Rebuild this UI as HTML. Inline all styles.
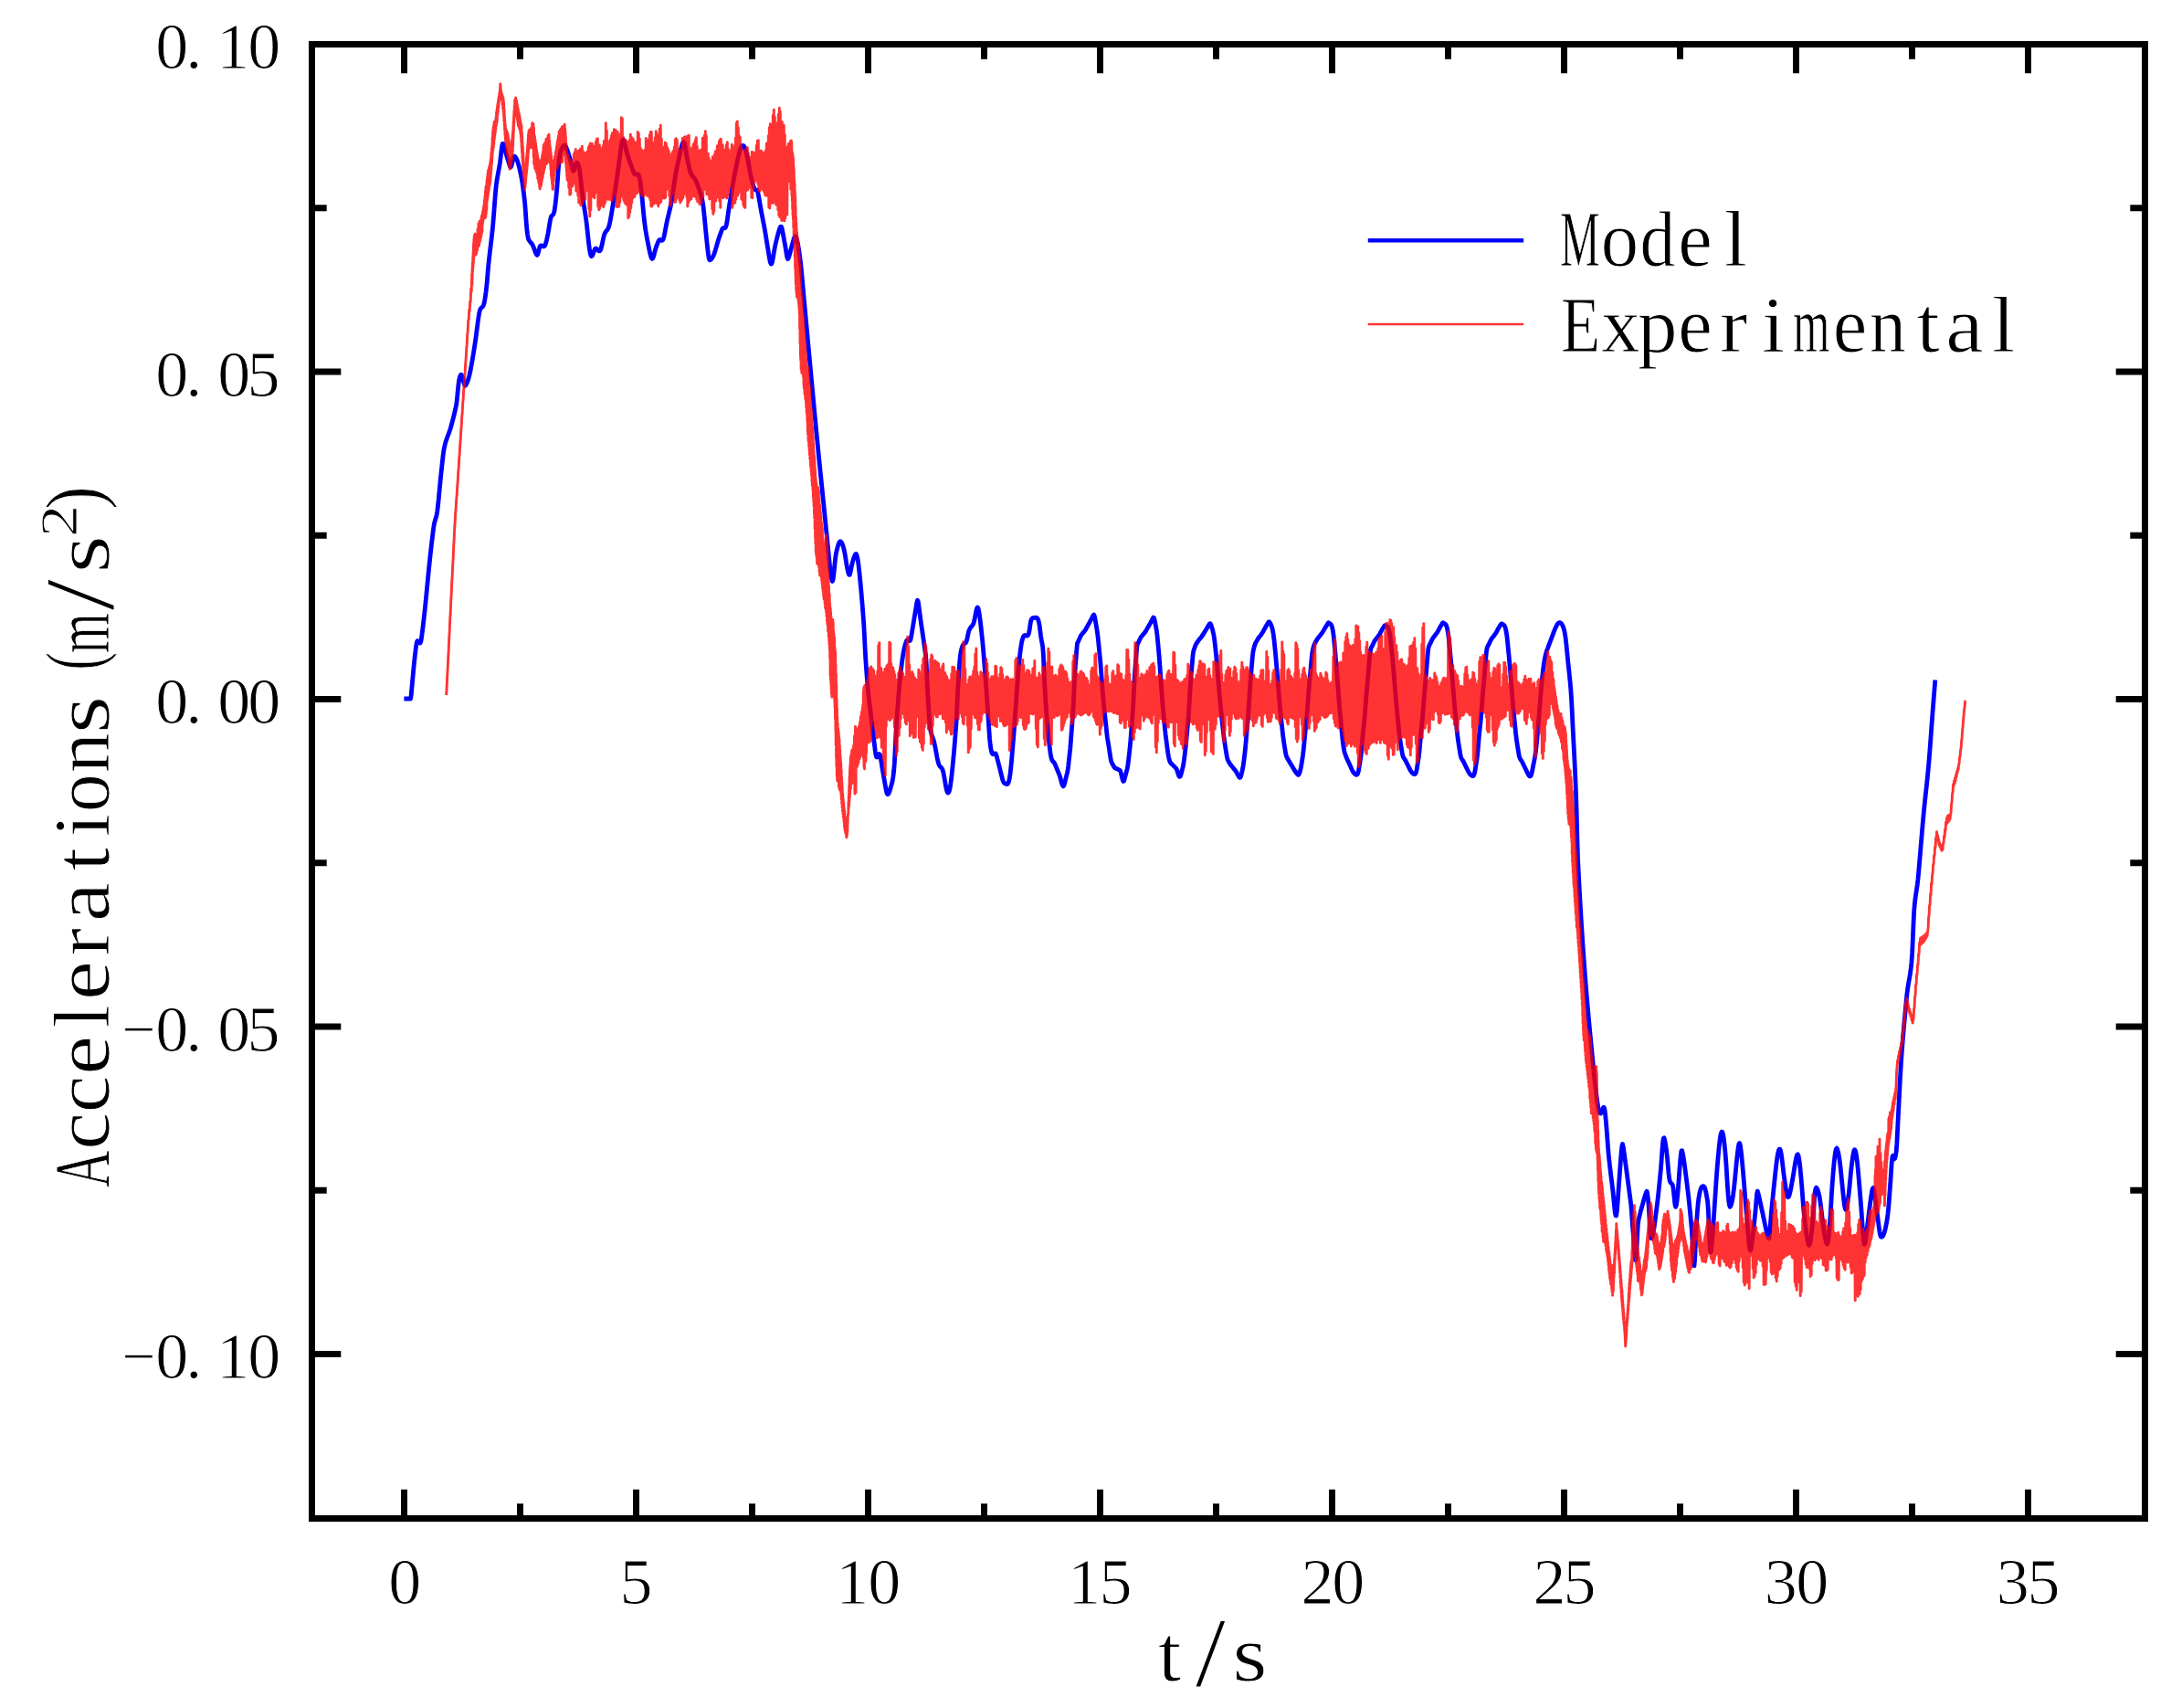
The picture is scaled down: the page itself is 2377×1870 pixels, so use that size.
<!DOCTYPE html>
<html lang="en"><head><meta charset="utf-8"><title>Accelerations: Model vs Experimental</title>
<style>html,body{margin:0;padding:0;background:#fff}svg{display:block}</style></head>
<body>
<svg width="2377" height="1870" viewBox="0 0 2377 1870" font-family="'Liberation Serif', serif" fill="#000">
<rect x="0" y="0" width="2377" height="1870" fill="#fff"/>
<style>text{stroke:#fff;stroke-width:0.9px;paint-order:fill stroke;stroke-linejoin:round}</style>
<path d="M442.4 765.0l0.7 0l0.7 0l0.7 0l0.7 0l0.7 0l0.7 0l0.7 0l0.7 -0.1l0.7 0.1l0.7 0.1l0.7 -3.1l0.7 -7.4l0.7 -7.8l0.7 -7.7l0.7 -7.5l0.7 -7.1l0.7 -6.5l0.7 -6l0.7 -5.4l0.7 -3.6l0.7 -1.3l0.7 0.1l0.7 0.9l0.7 1l0.7 0.3l0.7 -1l0.7 -3.1l0.7 -5.2l0.7 -5.5l0.7 -5.8l0.7 -6l0.7 -6.3l0.7 -6.7l0.7 -6.9l0.7 -7.1l0.7 -7.3l0.7 -7.2l0.7 -7.3l0.7 -7.1l0.7 -6.8l0.7 -6.7l0.7 -6.3l0.7 -6.1l0.7 -5.9l0.7 -5.7l0.7 -5.5l0.7 -4.5l0.7 -2.9l0.7 -2.3l0.7 -2.2l0.7 -2.8l0.7 -4.2l0.7 -6l0.7 -6.7l0.7 -7.3l0.7 -7.4l0.7 -7.4l0.7 -7l0.7 -6.4l0.7 -6.5l0.7 -6.2l0.7 -5.2l0.7 -3.7l0.7 -3l0.7 -2.6l0.7 -2.2l0.7 -2.1l0.7 -1.9l0.7 -1.9l0.7 -1.8l0.7 -1.9l0.7 -2.1l0.7 -2.3l0.7 -2.5l0.7 -2.6l0.7 -2.6l0.7 -2.7l0.7 -2.8l0.7 -2.9l0.7 -3l0.7 -3.2l0.7 -3.5l0.7 -6.1l0.7 -7.5l0.7 -7.1l0.7 -5.1l0.7 -3.3l0.7 -2l0.7 -0.9l0.7 0.4l0.7 1.7l0.7 2.5l0.7 2.8l0.7 2.5l0.7 1.7l0.7 0.4l0.7 -1l0.7 -1.3l0.7 -1.6l0.7 -2l0.7 -2.3l0.7 -2.6l0.7 -3l0.7 -3.4l0.7 -3.8l0.7 -3.9l0.7 -4l0.7 -4.2l0.7 -4.3l0.7 -4.4l0.7 -4.5l0.7 -4.8l0.7 -5.3l0.7 -5.4l0.7 -5.4l0.7 -5.2l0.7 -4.8l0.7 -3.7l0.7 -2.4l0.7 -1.3l0.7 -0.7l0.7 -0.5l0.7 -0.6l0.7 -1.2l0.7 -2.1l0.7 -3.3l0.7 -4.2l0.7 -4.9l0.7 -5.9l0.7 -7.1l0.7 -9.1l0.7 -8l0.7 -6.5l0.7 -6.1l0.7 -5.8l0.7 -5.8l0.7 -5.9l0.7 -6.3l0.7 -7l0.7 -8.5l0.7 -9.2l0.7 -9.4l0.7 -8.7l0.7 -7.2l0.7 -5.1l0.7 -4.3l0.7 -4l0.7 -3.9l0.7 -3.9l0.7 -4.3l0.7 -5.6l0.7 -6.3l0.7 -5.5l0.7 -3.3l0.7 -0.1l0.7 1.6l0.7 2.3l0.7 2.6l0.7 2.8l0.7 2.7l0.7 2.4l0.7 2.2l0.7 2.3l0.7 2.3l0.7 2.2l0.7 2l0.7 0.2l0.7 -1.5l0.7 -2.7l0.7 -3.1l0.7 -2.7l0.7 -1.7l0.7 -0.1l0.7 0.8l0.7 1l0.7 1.3l0.7 1.6l0.7 2l0.7 2.3l0.7 2.6l0.7 3l0.7 3.2l0.7 3.4l0.7 3.7l0.7 4.2l0.7 4.8l0.7 5.4l0.7 5.9l0.7 6.3l0.7 9.2l0.7 10.6l0.7 8.2l0.7 5.7l0.7 4.1l0.7 2.1l0.7 1.1l0.7 0.9l0.7 0.8l0.7 0.8l0.7 0.9l0.7 1.2l0.7 1.5l0.7 1.8l0.7 1.9l0.7 1.9l0.7 1.8l0.7 1.3l0.7 0.9l0.7 -0.8l0.7 -2.2l0.7 -2.9l0.7 -2.6l0.7 -1.5l0.7 -0.5l0.7 0l0.7 0.3l0.7 0.5l0.7 0.3l0.7 -0.1l0.7 -0.6l0.7 -1.5l0.7 -2.2l0.7 -2.7l0.7 -3.2l0.7 -3.4l0.7 -3.9l0.7 -4.3l0.7 -4.3l0.7 -3.8l0.7 -2.6l0.7 -1.2l0.7 -0.5l0.7 -0.5l0.7 -1.2l0.7 -2.5l0.7 -4.2l0.7 -5.7l0.7 -6.7l0.7 -7.3l0.7 -9.2l0.7 -10.4l0.7 -8.5l0.7 -5.8l0.7 -4.4l0.7 -3.2l0.7 -2l0.7 -1.5l0.7 -1.4l0.7 -1.1l0.7 -0.7l0.7 -0.3l0.7 0.4l0.7 1.1l0.7 1.6l0.7 1.8l0.7 2l0.7 2.1l0.7 2.2l0.7 2.2l0.7 2.5l0.7 3l0.7 3l0.7 2.9l0.7 2.4l0.7 1.1l0.7 -1.1l0.7 -2.4l0.7 -2.7l0.7 -2.3l0.7 -0.8l0.7 0.5l0.7 1.1l0.7 1.9l0.7 2.9l0.7 4.2l0.7 5.6l0.7 6.7l0.7 6.9l0.7 6l0.7 5.1l0.7 4.6l0.7 4.5l0.7 4.4l0.7 4.6l0.7 5l0.7 5.7l0.7 6.6l0.7 6.7l0.7 6.2l0.7 5.2l0.7 4.1l0.7 2.8l0.7 1.3l0.7 -0.4l0.7 -1.2l0.7 -1.9l0.7 -2l0.7 -1.7l0.7 -1.1l0.7 -0.3l0.7 0.3l0.7 0.7l0.7 0.7l0.7 0.7l0.7 0.4l0.7 -0.1l0.7 -0.7l0.7 -1.7l0.7 -2.6l0.7 -3.1l0.7 -3.4l0.7 -3.2l0.7 -2.7l0.7 -1.9l0.7 -1.3l0.7 -0.9l0.7 -0.8l0.7 -0.8l0.7 -1.2l0.7 -1.6l0.7 -2.4l0.7 -3.2l0.7 -3.6l0.7 -3.8l0.7 -4.1l0.7 -4.3l0.7 -4.5l0.7 -4.6l0.7 -4.6l0.7 -4.6l0.7 -4.7l0.7 -4.8l0.7 -4.7l0.7 -4.9l0.7 -5.2l0.7 -5.4l0.7 -5.5l0.7 -5.4l0.7 -5.2l0.7 -4.7l0.7 -3.6l0.7 -2l0.7 -0.2l0.7 1.8l0.7 2.5l0.7 2.9l0.7 3l0.7 3l0.7 2.6l0.7 2.2l0.7 2.1l0.7 2.1l0.7 2l0.7 2l0.7 2l0.7 1.9l0.7 1.9l0.7 1.9l0.7 1.8l0.7 1.7l0.7 0.8l0.7 0.2l0.7 -0.1l0.7 -0.3l0.7 -0.1l0.7 0.3l0.7 0.9l0.7 1.9l0.7 3.1l0.7 5l0.7 6.2l0.7 6.5l0.7 6.9l0.7 7.5l0.7 7.2l0.7 6.5l0.7 5.5l0.7 4.8l0.7 4.2l0.7 3.8l0.7 3.6l0.7 3.4l0.7 3.5l0.7 3.4l0.7 3.1l0.7 2.7l0.7 1.8l0.7 0.8l0.7 -0.4l0.7 -1.7l0.7 -2.4l0.7 -2.7l0.7 -2.7l0.7 -2.3l0.7 -1.9l0.7 -1.9l0.7 -1.7l0.7 -1.7l0.7 -1.2l0.7 -0.3l0.7 0.2l0.7 0.4l0.7 0.3l0.7 -0.1l0.7 -0.8l0.7 -1.8l0.7 -3l0.7 -3.4l0.7 -3.8l0.7 -3.7l0.7 -3.5l0.7 -3.2l0.7 -2.9l0.7 -2.9l0.7 -2.8l0.7 -2.9l0.7 -3.1l0.7 -3.3l0.7 -3.8l0.7 -4.6l0.7 -5l0.7 -5.2l0.7 -4.9l0.7 -4.5l0.7 -3.9l0.7 -3.7l0.7 -3.5l0.7 -3.3l0.7 -3.2l0.7 -3.2l0.7 -3.2l0.7 -3.4l0.7 -3.3l0.7 -2.9l0.7 -2.5l0.7 -1.7l0.7 -0.8l0.7 0.4l0.7 1.8l0.7 3.5l0.7 4.5l0.7 4.6l0.7 4l0.7 3.1l0.7 3.2l0.7 3l0.7 2.8l0.7 2.3l0.7 1.8l0.7 1.3l0.7 1l0.7 0.8l0.7 0.8l0.7 0.7l0.7 1l0.7 1.2l0.7 1.5l0.7 1.7l0.7 1.8l0.7 1.9l0.7 2l0.7 2.1l0.7 2.1l0.7 2l0.7 2.4l0.7 2.8l0.7 3.7l0.7 4.8l0.7 6.1l0.7 7l0.7 7.3l0.7 7.2l0.7 6.9l0.7 6.7l0.7 6.4l0.7 5.8l0.7 3.7l0.7 1.6l0.7 -0.2l0.7 -0.5l0.7 -0.8l0.7 -1l0.7 -1.2l0.7 -1.4l0.7 -1.8l0.7 -2l0.7 -2.2l0.7 -2.4l0.7 -2.4l0.7 -2.4l0.7 -2.4l0.7 -2.3l0.7 -2.1l0.7 -2.1l0.7 -1.9l0.7 -1.9l0.7 -1.9l0.7 -1.7l0.7 -0.6l0.7 0l0.7 0.1l0.7 0l0.7 -0.9l0.7 -2l0.7 -3.5l0.7 -4.7l0.7 -5.1l0.7 -5.1l0.7 -4.4l0.7 -4.3l0.7 -4.3l0.7 -4.3l0.7 -4.2l0.7 -4.1l0.7 -4l0.7 -3.9l0.7 -3.7l0.7 -3.5l0.7 -3.5l0.7 -3.3l0.7 -3.3l0.7 -3.3l0.7 -3.3l0.7 -2.9l0.7 -2.6l0.7 -2.1l0.7 -1.8l0.7 -1.3l0.7 -0.8l0.7 -0.2l0.7 0.4l0.7 1l0.7 1.5l0.7 1.9l0.7 2.4l0.7 2.8l0.7 3.1l0.7 3.6l0.7 4l0.7 4.1l0.7 4l0.7 3.6l0.7 3l0.7 2.8l0.7 2.6l0.7 2.3l0.7 2.2l0.7 2l0.7 1l0.7 0.2l0.7 0l0.7 0.5l0.7 1.4l0.7 3l0.7 3.8l0.7 4l0.7 4.1l0.7 4.1l0.7 3.8l0.7 3.6l0.7 3.6l0.7 3.7l0.7 3.6l0.7 3.8l0.7 4l0.7 4.3l0.7 4.4l0.7 4.3l0.7 4.2l0.7 4.4l0.7 4.4l0.7 3.9l0.7 2.9l0.7 1.5l0.7 -0.4l0.7 -2.3l0.7 -3.5l0.7 -4.2l0.7 -4.3l0.7 -4l0.7 -3.2l0.7 -2.9l0.7 -2.8l0.7 -2.7l0.7 -2.6l0.7 -2.6l0.7 -2.4l0.7 -2l0.7 -1.1l0.7 0.1l0.7 1.9l0.7 3.1l0.7 3.7l0.7 4l0.7 4l0.7 3.6l0.7 4.2l0.7 4.6l0.7 4l0.7 2.3l0.7 -0.5l0.7 -2.1l0.7 -2.5l0.7 -2.7l0.7 -2.6l0.7 -2.5l0.7 -2.6l0.7 -2.5l0.7 -2.6l0.7 -2.4l0.7 -1.6l0.7 -0.3l0.7 0.8l0.7 1.9l0.7 2.6l0.7 3.4l0.7 4l0.7 4.4l0.7 5l0.7 5.6l0.7 6.3l0.7 7.3l0.7 7.8l0.7 7.8l0.7 7.9l0.7 7.6l0.7 7.5l0.7 7.5l0.7 7.6l0.7 7.5l0.7 7.6l0.7 7.6l0.7 7.6l0.7 7.5l0.7 7.6l0.7 7.5l0.7 7.6l0.7 7.5l0.7 7.5l0.7 7.4l0.7 7.5l0.7 7.4l0.7 7.3l0.7 7.4l0.7 7.2l0.7 7.3l0.7 7.1l0.7 7.2l0.7 7l0.7 7l0.7 6.9l0.7 6.9l0.7 6.9l0.7 6.8l0.7 6.9l0.7 6.9l0.7 6.9l0.7 6.9l0.7 7.1l0.7 7l0.7 7l0.7 7.1l0.7 7.1l0.7 7l0.7 7l0.7 6.8l0.7 6.1l0.7 5.1l0.7 3.5l0.7 1.5l0.7 -2l0.7 -5.1l0.7 -6.9l0.7 -7.2l0.7 -6.2l0.7 -4l0.7 -2.8l0.7 -2.8l0.7 -2.5l0.7 -2l0.7 -1.5l0.7 -0.7l0.7 0.2l0.7 0.7l0.7 1.2l0.7 1.7l0.7 2.2l0.7 2.6l0.7 3.2l0.7 3.9l0.7 4.5l0.7 4.5l0.7 3.9l0.7 3.5l0.7 2.9l0.7 1.7l0.7 -0.1l0.7 -2.2l0.7 -3.5l0.7 -3.8l0.7 -3.2l0.7 -2.5l0.7 -2.3l0.7 -2l0.7 -1.7l0.7 -1.3l0.7 -0.3l0.7 1.3l0.7 2.5l0.7 4l0.7 5.1l0.7 6.1l0.7 6.9l0.7 7.3l0.7 7.8l0.7 8.1l0.7 8.5l0.7 9l0.7 9.6l0.7 12.4l0.7 14.6l0.7 12.5l0.7 9.9l0.7 9.4l0.7 8.6l0.7 7.7l0.7 6.5l0.7 5.9l0.7 5.9l0.7 5.8l0.7 5.8l0.7 5.9l0.7 5.8l0.7 5.8l0.7 5.8l0.7 5.8l0.7 5.7l0.7 4.5l0.7 1.9l0.7 0.1l0.7 -1.1l0.7 -1.4l0.7 -0.9l0.7 0.4l0.7 2.4l0.7 4l0.7 4.3l0.7 4.3l0.7 4.2l0.7 4.1l0.7 4.1l0.7 3.9l0.7 3.9l0.7 3.8l0.7 3l0.7 1.5l0.7 0.1l0.7 -0.9l0.7 -1.6l0.7 -2.2l0.7 -2.3l0.7 -2.4l0.7 -2.3l0.7 -3.1l0.7 -4.4l0.7 -6l0.7 -8.4l0.7 -12.9l0.7 -14.9l0.7 -11.5l0.7 -11.1l0.7 -10.5l0.7 -9.5l0.7 -8.6l0.7 -8l0.7 -7.3l0.7 -6.6l0.7 -5.9l0.7 -5.4l0.7 -4.9l0.7 -4.3l0.7 -3.6l0.7 -3l0.7 -2.5l0.7 -2.2l0.7 -1.8l0.7 -0.9l0.7 0.1l0.7 0.5l0.7 0.5l0.7 0l0.7 -1.1l0.7 -2.7l0.7 -4.1l0.7 -4.2l0.7 -4.3l0.7 -4.2l0.7 -4.2l0.7 -4.2l0.7 -4.3l0.7 -4.2l0.7 -4.2l0.7 -2.9l0.7 1.3l0.7 4.3l0.7 5.7l0.7 5.8l0.7 4.8l0.7 4.8l0.7 4.7l0.7 4.8l0.7 4.8l0.7 4.8l0.7 4.9l0.7 5l0.7 5.2l0.7 10l0.7 15.5l0.7 15.5l0.7 11.5l0.7 10.7l0.7 9.4l0.7 6.9l0.7 3.8l0.7 2.6l0.7 2.1l0.7 1.8l0.7 2l0.7 2.4l0.7 3.2l0.7 3.6l0.7 3.8l0.7 3.8l0.7 3.6l0.7 3.2l0.7 2.6l0.7 1.7l0.7 1.1l0.7 0.8l0.7 0.6l0.7 0.8l0.7 1.3l0.7 2l0.7 3.1l0.7 3.8l0.7 4.1l0.7 4.2l0.7 3.7l0.7 2.8l0.7 1.7l0.7 0.4l0.7 -0.7l0.7 -2l0.7 -3.2l0.7 -4.4l0.7 -5.4l0.7 -6.3l0.7 -6.9l0.7 -7.3l0.7 -7.7l0.7 -8.2l0.7 -8.6l0.7 -9.3l0.7 -10.6l0.7 -14.5l0.7 -15.2l0.7 -12.5l0.7 -10.9l0.7 -9.4l0.7 -7.1l0.7 -4.4l0.7 -3l0.7 -2.3l0.7 -1.7l0.7 -1l0.7 -0.6l0.7 -0.3l0.7 -0.5l0.7 -0.9l0.7 -1.8l0.7 -3l0.7 -3.4l0.7 -3.2l0.7 -2.1l0.7 -1.4l0.7 -1.1l0.7 -0.9l0.7 -0.8l0.7 -0.9l0.7 -1.1l0.7 -1.6l0.7 -2.7l0.7 -3.5l0.7 -3.8l0.7 -3.4l0.7 -2.5l0.7 -1l0.7 1.1l0.7 2.9l0.7 4.3l0.7 5.2l0.7 5.9l0.7 6.1l0.7 6.4l0.7 7l0.7 7.9l0.7 8.6l0.7 9l0.7 9.2l0.7 9.4l0.7 9.5l0.7 9.6l0.7 10.6l0.7 11.1l0.7 10.8l0.7 9.4l0.7 6.9l0.7 4.6l0.7 2.9l0.7 1.7l0.7 0.7l0.7 -0.1l0.7 -0.5l0.7 -0.4l0.7 0.1l0.7 1.1l0.7 2.3l0.7 2.7l0.7 2.7l0.7 2.8l0.7 2.7l0.7 2.8l0.7 2.8l0.7 2.8l0.7 2.8l0.7 2.8l0.7 2.1l0.7 1.4l0.7 0.8l0.7 0.4l0.7 0.2l0.7 0.4l0.7 0.1l0.7 -0.3l0.7 -1l0.7 -2l0.7 -3l0.7 -4.6l0.7 -6.1l0.7 -7.2l0.7 -8.1l0.7 -8.5l0.7 -8.6l0.7 -9l0.7 -9.1l0.7 -9.7l0.7 -10l0.7 -10.1l0.7 -9.9l0.7 -9.5l0.7 -8.7l0.7 -7.8l0.7 -6.8l0.7 -6l0.7 -5.2l0.7 -4l0.7 -3l0.7 -2.2l0.7 -1.6l0.7 -0.9l0.7 -0.2l0.7 0.1l0.7 0.3l0.7 0.2l0.7 -0.1l0.7 -0.6l0.7 -1.4l0.7 -3.2l0.7 -4.9l0.7 -4.7l0.7 -2.8l0.7 -1l0.7 -0.7l0.7 -0.3l0.7 -0.1l0.7 0l0.7 0l0.7 -0.1l0.7 0l0.7 0.3l0.7 0.8l0.7 1.6l0.7 2.4l0.7 4.1l0.7 5.6l0.7 5.6l0.7 4.3l0.7 3.4l0.7 4.1l0.7 9.2l0.7 17.2l0.7 15.5l0.7 11.2l0.7 10.7l0.7 10.1l0.7 9.1l0.7 8l0.7 7.2l0.7 6.8l0.7 6.2l0.7 5.2l0.7 4l0.7 2.7l0.7 1.3l0.7 0.9l0.7 0.7l0.7 0.8l0.7 1.3l0.7 1.6l0.7 1.7l0.7 1.7l0.7 1.8l0.7 1.7l0.7 1.7l0.7 1.7l0.7 1.9l0.7 2.6l0.7 2.7l0.7 2.5l0.7 1.9l0.7 0.9l0.7 -0.5l0.7 -2.3l0.7 -2.8l0.7 -2.8l0.7 -2.8l0.7 -2.7l0.7 -2.8l0.7 -5.4l0.7 -6.7l0.7 -6.4l0.7 -6.2l0.7 -9.3l0.7 -9.2l0.7 -8.9l0.7 -10.2l0.7 -12.6l0.7 -14.1l0.7 -14.1l0.7 -12.1l0.7 -8.4l0.7 -9l0.7 -7.4l0.7 -1.1l0.7 -1.6l0.7 -1.6l0.7 -1.5l0.7 -1.6l0.7 -1.3l0.7 -0.9l0.7 -0.9l0.7 -0.8l0.7 -0.8l0.7 -0.9l0.7 -0.9l0.7 -1l0.7 -1.3l0.7 -1.3l0.7 -1.2l0.7 -1.3l0.7 -1.3l0.7 -1.2l0.7 -1.3l0.7 -1.3l0.7 -1.3l0.7 -1.4l0.7 -1.4l0.7 -1.4l0.7 -0.6l0.7 1.6l0.7 3.5l0.7 4.3l0.7 4l0.7 4.2l0.7 5.2l0.7 6.5l0.7 7.1l0.7 7l0.7 7l0.7 8.8l0.7 9.2l0.7 9.2l0.7 9.2l0.7 8.5l0.7 7.4l0.7 6.5l0.7 6.2l0.7 6.4l0.7 6.9l0.7 5.9l0.7 4.3l0.7 4l0.7 4.6l0.7 4.7l0.7 4.5l0.7 3.7l0.7 1.7l0.7 1.3l0.7 1.3l0.7 1.3l0.7 1l0.7 0.8l0.7 0.4l0.7 0.2l0.7 0.4l0.7 0.3l0.7 0.3l0.7 0.4l0.7 0.3l0.7 0.4l0.7 1.8l0.7 2.8l0.7 3.1l0.7 2.7l0.7 1.5l0.7 -0.3l0.7 -2.4l0.7 -2.7l0.7 -2.7l0.7 -2.6l0.7 -2.7l0.7 -3.2l0.7 -5.7l0.7 -6.4l0.7 -5.9l0.7 -6.7l0.7 -9.3l0.7 -8.5l0.7 -8.8l0.7 -10.4l0.7 -12.6l0.7 -13.7l0.7 -13.6l0.7 -10.1l0.7 -7.8l0.7 -9.1l0.7 -4.9l0.7 -1.1l0.7 -1.5l0.7 -1.5l0.7 -1.5l0.7 -1.4l0.7 -1.1l0.7 -0.9l0.7 -0.8l0.7 -0.8l0.7 -0.8l0.7 -0.8l0.7 -0.9l0.7 -1.1l0.7 -1.2l0.7 -1.3l0.7 -1.2l0.7 -1.2l0.7 -1.2l0.7 -1.2l0.7 -1.2l0.7 -1.3l0.7 -1.3l0.7 -1.3l0.7 -1.4l0.7 -1.3l0.7 0.4l0.7 2.4l0.7 3.7l0.7 3.8l0.7 4l0.7 5.3l0.7 6.9l0.7 7.8l0.7 7.7l0.7 9.4l0.7 9.7l0.7 10.2l0.7 10.1l0.7 9.1l0.7 8.1l0.7 7.5l0.7 7.6l0.7 7.7l0.7 6.7l0.7 5.3l0.7 5.3l0.7 5.5l0.7 5l0.7 4l0.7 2.9l0.7 1.9l0.7 1.2l0.7 0.8l0.7 0.7l0.7 0.7l0.7 0.6l0.7 0.7l0.7 0.7l0.7 0.7l0.7 0.7l0.7 0.8l0.7 1.6l0.7 2.2l0.7 2.3l0.7 1.9l0.7 0.8l0.7 -0.4l0.7 -1.6l0.7 -2.4l0.7 -2.8l0.7 -2.8l0.7 -3.1l0.7 -4.8l0.7 -5.6l0.7 -5.7l0.7 -6.2l0.7 -8.2l0.7 -7.7l0.7 -7.4l0.7 -8.4l0.7 -10.3l0.7 -11.6l0.7 -11.6l0.7 -10.4l0.7 -7.7l0.7 -7.7l0.7 -7.9l0.7 -3.8l0.7 -2l0.7 -2.1l0.7 -1.8l0.7 -1.5l0.7 -1l0.7 -1.1l0.7 -1l0.7 -0.9l0.7 -0.9l0.7 -0.9l0.7 -0.8l0.7 -0.8l0.7 -1l0.7 -1l0.7 -1.1l0.7 -1.1l0.7 -1.2l0.7 -1.1l0.7 -1.2l0.7 -1.1l0.7 -1.2l0.7 -1.2l0.7 -1.2l0.7 -1.1l0.7 -1.1l0.7 -0.2l0.7 1.2l0.7 1.9l0.7 2.4l0.7 2.5l0.7 3l0.7 3.9l0.7 5.3l0.7 6.3l0.7 6.5l0.7 7.3l0.7 7.9l0.7 8.2l0.7 8.6l0.7 8.6l0.7 8l0.7 7.5l0.7 7.1l0.7 6.9l0.7 6.9l0.7 6.4l0.7 5.9l0.7 5.3l0.7 4.9l0.7 4.5l0.7 4.3l0.7 4l0.7 3.2l0.7 1.5l0.7 1.4l0.7 1.3l0.7 1.1l0.7 0.9l0.7 0.8l0.7 0.9l0.7 0.9l0.7 0.8l0.7 0.9l0.7 0.9l0.7 0.8l0.7 0.9l0.7 1.2l0.7 1.3l0.7 1.3l0.7 1.3l0.7 1.2l0.7 0.8l0.7 -0.2l0.7 -1.6l0.7 -2.6l0.7 -3.1l0.7 -3.3l0.7 -4.5l0.7 -5.2l0.7 -5.8l0.7 -6.7l0.7 -8.2l0.7 -8.2l0.7 -7.4l0.7 -7.8l0.7 -9.7l0.7 -11.1l0.7 -11.4l0.7 -10.3l0.7 -8.2l0.7 -8.1l0.7 -8.5l0.7 -6.1l0.7 -3l0.7 -2.7l0.7 -2.2l0.7 -1.7l0.7 -1.2l0.7 -1.2l0.7 -1.2l0.7 -1.2l0.7 -1l0.7 -0.9l0.7 -0.8l0.7 -0.9l0.7 -1l0.7 -1.1l0.7 -1.1l0.7 -1.2l0.7 -1.3l0.7 -1.2l0.7 -1.3l0.7 -1.2l0.7 -1.2l0.7 -1.2l0.7 -1.2l0.7 -1.1l0.7 -0.5l0.7 0.6l0.7 1.2l0.7 1.4l0.7 1.7l0.7 2.3l0.7 3.2l0.7 4.5l0.7 5.8l0.7 6.7l0.7 7.4l0.7 7.7l0.7 8l0.7 8.6l0.7 8.8l0.7 8.4l0.7 8l0.7 7.9l0.7 7.5l0.7 7l0.7 6.8l0.7 6.5l0.7 6l0.7 5.1l0.7 4.6l0.7 4.2l0.7 4.2l0.7 2.9l0.7 1.5l0.7 1.4l0.7 1.2l0.7 1.1l0.7 1.2l0.7 1.2l0.7 1.1l0.7 1.2l0.7 1.1l0.7 1.2l0.7 1.2l0.7 1.1l0.7 1.2l0.7 1l0.7 1l0.7 1l0.7 0.9l0.7 0.8l0.7 0.2l0.7 -1l0.7 -1.8l0.7 -2.7l0.7 -3.2l0.7 -4.1l0.7 -4.4l0.7 -4.8l0.7 -6l0.7 -7.4l0.7 -7.8l0.7 -7l0.7 -6.4l0.7 -7l0.7 -8.6l0.7 -9.7l0.7 -9.6l0.7 -8.7l0.7 -7.6l0.7 -7.5l0.7 -8l0.7 -7.5l0.7 -4.7l0.7 -3.3l0.7 -2.5l0.7 -1.7l0.7 -1.4l0.7 -1.3l0.7 -1.3l0.7 -1.2l0.7 -1.1l0.7 -0.9l0.7 -0.9l0.7 -0.8l0.7 -0.9l0.7 -0.9l0.7 -0.9l0.7 -0.9l0.7 -1.1l0.7 -1.2l0.7 -1.2l0.7 -1.3l0.7 -1.1l0.7 -1.1l0.7 -1.1l0.7 -1.2l0.7 -1.1l0.7 -0.8l0.7 0.5l0.7 0.5l0.7 0.5l0.7 0.5l0.7 1.5l0.7 2.4l0.7 3.6l0.7 5.2l0.7 6.9l0.7 7.9l0.7 7.8l0.7 7.9l0.7 9l0.7 9.4l0.7 9l0.7 9.2l0.7 8.8l0.7 7.8l0.7 7.4l0.7 7.5l0.7 7.4l0.7 7.1l0.7 6l0.7 4.6l0.7 3.3l0.7 2.1l0.7 1.9l0.7 1.9l0.7 1.7l0.7 1.5l0.7 1.5l0.7 1.6l0.7 1.5l0.7 1.5l0.7 1.5l0.7 1.6l0.7 1.5l0.7 1.4l0.7 1.1l0.7 0.8l0.7 0.7l0.7 0.6l0.7 0.4l0.7 0.2l0.7 -0.5l0.7 -1.4l0.7 -2.7l0.7 -4.2l0.7 -4.5l0.7 -4.3l0.7 -5.3l0.7 -7.7l0.7 -8.1l0.7 -7.7l0.7 -6.4l0.7 -6.4l0.7 -8l0.7 -9.3l0.7 -9.2l0.7 -8.1l0.7 -7.8l0.7 -8.1l0.7 -8.5l0.7 -8.6l0.7 -7.3l0.7 -3.8l0.7 -1.8l0.7 -1.1l0.7 -1.4l0.7 -1.5l0.7 -1.5l0.7 -1.3l0.7 -1.1l0.7 -0.9l0.7 -0.9l0.7 -0.9l0.7 -0.9l0.7 -0.9l0.7 -1l0.7 -1l0.7 -1.3l0.7 -1.4l0.7 -1.3l0.7 -1.2l0.7 -1.2l0.7 -1.1l0.7 -1.2l0.7 -0.9l0.7 0l0.7 0.5l0.7 0.5l0.7 0.4l0.7 0.8l0.7 1.6l0.7 2.4l0.7 3.7l0.7 5.1l0.7 6.6l0.7 7.2l0.7 7.3l0.7 7.3l0.7 8.1l0.7 8.8l0.7 8.4l0.7 8.5l0.7 8.4l0.7 7.6l0.7 6.9l0.7 6.9l0.7 7.2l0.7 6.4l0.7 5.2l0.7 4.5l0.7 4.2l0.7 4.3l0.7 3.6l0.7 1.8l0.7 1.2l0.7 0.9l0.7 1.1l0.7 1.4l0.7 1.4l0.7 1.4l0.7 1.4l0.7 1.4l0.7 1.4l0.7 1.5l0.7 1.3l0.7 1.2l0.7 0.9l0.7 0.8l0.7 0.6l0.7 0.5l0.7 0.4l0.7 0l0.7 -0.6l0.7 -1.6l0.7 -2.9l0.7 -4.4l0.7 -4.6l0.7 -4.4l0.7 -5.7l0.7 -8.2l0.7 -8.1l0.7 -7.7l0.7 -6.3l0.7 -6.7l0.7 -8.5l0.7 -9.6l0.7 -9.2l0.7 -8l0.7 -8l0.7 -8.3l0.7 -8.7l0.7 -8.7l0.7 -6.7l0.7 -3.3l0.7 -1.5l0.7 -1.2l0.7 -1.5l0.7 -1.5l0.7 -1.5l0.7 -1.2l0.7 -1.1l0.7 -0.9l0.7 -0.9l0.7 -1l0.7 -0.9l0.7 -0.9l0.7 -1l0.7 -1.1l0.7 -1.3l0.7 -1.4l0.7 -1.4l0.7 -1.2l0.7 -1.2l0.7 -1.1l0.7 -1.2l0.7 -0.7l0.7 0.3l0.7 0.4l0.7 0.5l0.7 0.5l0.7 1l0.7 1.8l0.7 2.8l0.7 4.1l0.7 5.5l0.7 7.1l0.7 7.4l0.7 7.4l0.7 7.6l0.7 8.5l0.7 8.9l0.7 8.6l0.7 8.7l0.7 8.5l0.7 7.6l0.7 7l0.7 7.1l0.7 7.3l0.7 6.5l0.7 5.1l0.7 4.5l0.7 4.3l0.7 4.4l0.7 3.5l0.7 1.7l0.7 1.2l0.7 0.9l0.7 1.2l0.7 1.4l0.7 1.4l0.7 1.5l0.7 1.4l0.7 1.5l0.7 1.4l0.7 1.5l0.7 1.4l0.7 1.1l0.7 1l0.7 0.8l0.7 0.6l0.7 0.4l0.7 0.5l0.7 0.1l0.7 -0.6l0.7 -1.6l0.7 -2.8l0.7 -4.4l0.7 -4.5l0.7 -4.4l0.7 -5.4l0.7 -7.9l0.7 -8.2l0.7 -7.8l0.7 -6.4l0.7 -6.4l0.7 -8.2l0.7 -9.4l0.7 -9.3l0.7 -8.1l0.7 -8l0.7 -8.1l0.7 -8.6l0.7 -8.6l0.7 -7.6l0.7 -4.1l0.7 -1.8l0.7 -1.1l0.7 -1.5l0.7 -1.5l0.7 -1.5l0.7 -1.3l0.7 -1.1l0.7 -1l0.7 -0.9l0.7 -0.9l0.7 -0.9l0.7 -1l0.7 -0.9l0.7 -1l0.7 -1.2l0.7 -1.4l0.7 -1.4l0.7 -1.3l0.7 -1.1l0.7 -1.2l0.7 -1.1l0.7 -1.1l0.7 -0.3l0.7 0.5l0.7 0.4l0.7 0.5l0.7 0.6l0.7 1.3l0.7 2.3l0.7 3.2l0.7 4.7l0.7 6.2l0.7 7.3l0.7 7.3l0.7 7.4l0.7 7.9l0.7 8.8l0.7 8.7l0.7 8.6l0.7 8.6l0.7 8.1l0.7 7.2l0.7 7l0.7 7.2l0.7 7.1l0.7 5.7l0.7 4.8l0.7 4.3l0.7 4.3l0.7 4.5l0.7 2.3l0.7 1.5l0.7 1l0.7 0.9l0.7 1.4l0.7 1.4l0.7 1.4l0.7 1.5l0.7 1.4l0.7 1.4l0.7 1.5l0.7 1.4l0.7 1.5l0.7 1.4l0.7 1.3l0.7 0.9l0.7 0.5l0.7 -0.2l0.7 -1.1l0.7 -2.6l0.7 -3.4l0.7 -3.7l0.7 -3.4l0.7 -3.5l0.7 -3.9l0.7 -4.7l0.7 -6l0.7 -7.1l0.7 -7.7l0.7 -8.1l0.7 -8.5l0.7 -8.8l0.7 -8.8l0.7 -8.5l0.7 -8l0.7 -7.5l0.7 -6.9l0.7 -6l0.7 -5.1l0.7 -4.4l0.7 -3.6l0.7 -2.9l0.7 -2.3l0.7 -1.9l0.7 -1.9l0.7 -1.9l0.7 -1.9l0.7 -1.9l0.7 -1.8l0.7 -1.9l0.7 -1.8l0.7 -1.9l0.7 -1.8l0.7 -1.9l0.7 -1.8l0.7 -1.7l0.7 -1.6l0.7 -1.5l0.7 -1.4l0.7 -1.3l0.7 -0.9l0.7 -0.5l0.7 -0.4l0.7 0l0.7 0.4l0.7 0.6l0.7 0.8l0.7 1.2l0.7 1.6l0.7 2.1l0.7 2.7l0.7 3.7l0.7 4.8l0.7 6.3l0.7 7.1l0.7 7.1l0.7 6.9l0.7 6.7l0.7 6.7l0.7 7l0.7 8.2l0.7 10.4l0.7 13.3l0.7 14.9l0.7 13.6l0.7 13.4l0.7 13.9l0.7 14.8l0.7 17.5l0.7 21.9l0.7 29.7l0.7 21.7l0.7 14l0.7 13.4l0.7 12.9l0.7 12.2l0.7 11.8l0.7 11.3l0.7 10.8l0.7 10.3l0.7 9.9l0.7 9.6l0.7 9.2l0.7 8.9l0.7 8.6l0.7 8.3l0.7 8.1l0.7 7.9l0.7 7.7l0.7 7.6l0.7 7.4l0.7 7.4l0.7 7.3l0.7 7.4l0.7 7.2l0.7 7.1l0.7 6.9l0.7 6.6l0.7 6.3l0.7 6.1l0.7 5.9l0.7 5.5l0.7 4.9l0.7 4.3l0.7 3.4l0.7 1.7l0.7 0.4l0.7 0.1l0.7 -1.2l0.7 -2l0.7 -2.1l0.7 -1.4l0.7 0l0.7 2.5l0.7 5.6l0.7 7.5l0.7 8.2l0.7 9.3l0.7 9.5l0.7 8.5l0.7 6.9l0.7 6.2l0.7 5.9l0.7 5.7l0.7 5.5l0.7 5.6l0.7 6l0.7 7.3l0.7 7.6l0.7 6.5l0.7 4.1l0.7 0.3l0.7 -4.4l0.7 -7.9l0.7 -9.8l0.7 -10.2l0.7 -9.4l0.7 -9.5l0.7 -9.4l0.7 -8.8l0.7 -6.7l0.7 -2.4l0.7 3.2l0.7 4.7l0.7 5l0.7 5.1l0.7 5.3l0.7 5.2l0.7 5.3l0.7 5.3l0.7 5.2l0.7 5.2l0.7 5.2l0.7 5.3l0.7 5.7l0.7 8l0.7 9.6l0.7 9.8l0.7 9l0.7 8.7l0.7 8.4l0.7 7.8l0.7 -0.3l0.7 -11.1l0.7 -15.2l0.7 -12.6l0.7 -4.8l0.7 -2.9l0.7 -2.9l0.7 -2.7l0.7 -2.6l0.7 -2.5l0.7 -2.6l0.7 -2.5l0.7 -2.6l0.7 -2.5l0.7 -2.3l0.7 -2.1l0.7 -1.9l0.7 -1.2l0.7 3.2l0.7 6.5l0.7 7.7l0.7 12l0.7 15.7l0.7 6.1l0.7 0.5l0.7 -1l0.7 -2.2l0.7 -3.3l0.7 -4.1l0.7 -4.9l0.7 -5.2l0.7 -5.4l0.7 -5.3l0.7 -5.6l0.7 -5.8l0.7 -6.3l0.7 -6.8l0.7 -7l0.7 -7.2l0.7 -7.6l0.7 -9.5l0.7 -10.1l0.7 -8.2l0.7 -4.3l0.7 -0.3l0.7 2.7l0.7 3.7l0.7 4.7l0.7 5.4l0.7 6.1l0.7 7.9l0.7 8.2l0.7 5.7l0.7 3.1l0.7 1.5l0.7 0.6l0.7 0.5l0.7 1.2l0.7 2.7l0.7 5.8l0.7 7.2l0.7 6.1l0.7 2.5l0.7 -1.8l0.7 -4.6l0.7 -6.8l0.7 -7.8l0.7 -9.3l0.7 -10l0.7 -8.7l0.7 -7.5l0.7 -5l0.7 -0.2l0.7 2.9l0.7 3.8l0.7 4.5l0.7 5l0.7 5.4l0.7 5.4l0.7 5.5l0.7 5.6l0.7 5.7l0.7 6l0.7 6.4l0.7 6.9l0.7 7.3l0.7 7.3l0.7 7.4l0.7 11.4l0.7 14.1l0.7 11.6l0.7 4l0.7 -7.4l0.7 -14.9l0.7 -16.3l0.7 -11.9l0.7 -9l0.7 -8.3l0.7 -6l0.7 -4.2l0.7 -3.3l0.7 -2.4l0.7 -1.7l0.7 -1.1l0.7 -0.6l0.7 -0.1l0.7 0.1l0.7 0.8l0.7 1.8l0.7 2.7l0.7 3.4l0.7 3.9l0.7 4.2l0.7 9.2l0.7 15.4l0.7 16.3l0.7 12l0.7 2.5l0.7 -5.3l0.7 -7.2l0.7 -8.8l0.7 -9.8l0.7 -10.2l0.7 -10.6l0.7 -10.8l0.7 -10.7l0.7 -10.1l0.7 -9.2l0.7 -8.3l0.7 -7.6l0.7 -7.2l0.7 -6.3l0.7 -4.8l0.7 -3.3l0.7 -1.6l0.7 0.1l0.7 2.1l0.7 4l0.7 5.5l0.7 6.7l0.7 7.7l0.7 9.4l0.7 11.3l0.7 11.6l0.7 9.8l0.7 7.2l0.7 4.9l0.7 1.8l0.7 -0.8l0.7 -1.8l0.7 -2.7l0.7 -3.7l0.7 -4.5l0.7 -5.4l0.7 -6.3l0.7 -7.1l0.7 -7.5l0.7 -7.4l0.7 -6.7l0.7 -6.1l0.7 -5.4l0.7 -3.6l0.7 -0.8l0.7 2.4l0.7 4.5l0.7 6.1l0.7 7.2l0.7 7.7l0.7 8l0.7 8.5l0.7 8.8l0.7 8.6l0.7 8.3l0.7 8.2l0.7 9l0.7 8.9l0.7 8.3l0.7 6.7l0.7 4.7l0.7 1.7l0.7 -1.8l0.7 -5.1l0.7 -5.7l0.7 -6.1l0.7 -6.2l0.7 -6.4l0.7 -6.3l0.7 -7.2l0.7 -9l0.7 -7.9l0.7 -3.3l0.7 2.1l0.7 2.8l0.7 3.1l0.7 3.3l0.7 3.2l0.7 3.2l0.7 3.1l0.7 3.2l0.7 3.4l0.7 3.3l0.7 3.4l0.7 3.3l0.7 3.2l0.7 3.1l0.7 2.8l0.7 2.6l0.7 2.2l0.7 0.4l0.7 -4.8l0.7 -8.1l0.7 -9.4l0.7 -8.7l0.7 -7l0.7 -6.8l0.7 -6.9l0.7 -6.9l0.7 -6.8l0.7 -6.7l0.7 -6.3l0.7 -5.7l0.7 -5l0.7 -4l0.7 -2.9l0.7 -1.6l0.7 -0.1l0.7 1.5l0.7 3.3l0.7 4.6l0.7 5.6l0.7 5.9l0.7 6l0.7 5.4l0.7 4.7l0.7 4.8l0.7 4.5l0.7 3.7l0.7 2.1l0.7 0.5l0.7 -0.8l0.7 -1.9l0.7 -2.7l0.7 -3.3l0.7 -3.7l0.7 -3.8l0.7 -3.7l0.7 -4.2l0.7 -4.4l0.7 -4.5l0.7 -4.2l0.7 -3.8l0.7 -3.1l0.7 -2.2l0.7 -0.6l0.7 1.4l0.7 3.5l0.7 5.3l0.7 6.5l0.7 7.5l0.7 7.9l0.7 8.9l0.7 9.4l0.7 8.8l0.7 7.6l0.7 6.5l0.7 5.9l0.7 5.2l0.7 4.8l0.7 4.4l0.7 3.5l0.7 2.1l0.7 0.4l0.7 -1.7l0.7 -3.5l0.7 -5.1l0.7 -6.3l0.7 -7l0.7 -7.5l0.7 -10l0.7 -10.3l0.7 -7l0.7 -3.6l0.7 -1.1l0.7 0.9l0.7 1.4l0.7 2l0.7 2.5l0.7 3.4l0.7 4.4l0.7 5.2l0.7 5.9l0.7 6l0.7 5.8l0.7 5.2l0.7 4.8l0.7 4.3l0.7 3.7l0.7 3l0.7 2.2l0.7 1.2l0.7 -1.5l0.7 -4.3l0.7 -6.6l0.7 -8.4l0.7 -9.8l0.7 -11.9l0.7 -12.5l0.7 -10.6l0.7 -9.2l0.7 -8.4l0.7 -7.4l0.7 -6.1l0.7 -4.6l0.7 -2.9l0.7 -0.9l0.7 1.2l0.7 2.5l0.7 3.3l0.7 4.1l0.7 5.1l0.7 6l0.7 6.9l0.7 7.2l0.7 7.2l0.7 6.8l0.7 6.4l0.7 5.4l0.7 3.8l0.7 1.4l0.7 -0.8l0.7 -2.8l0.7 -4.2l0.7 -5.2l0.7 -5.7l0.7 -6.8l0.7 -7.5l0.7 -7.4l0.7 -6.5l0.7 -5.7l0.7 -5.2l0.7 -4.1l0.7 -2.8l0.7 -1l0.7 0.9l0.7 2.7l0.7 4.2l0.7 5.6l0.7 6.7l0.7 7.8l0.7 8.2l0.7 8.4l0.7 8.6l0.7 8.7l0.7 9.7l0.7 10.5l0.7 9.9l0.7 7.8l0.7 3.8l0.7 -0.4l0.7 -3.4l0.7 -5.2l0.7 -6l0.7 -5.6l0.7 -5.4l0.7 -5.9l0.7 -6l0.7 -5.7l0.7 -5.1l0.7 -4.7l0.7 -4.4l0.7 -3.1l0.7 -0.8l0.7 2.4l0.7 4.5l0.7 4.8l0.7 5l0.7 5.1l0.7 5.2l0.7 5.3l0.7 5.4l0.7 5.3l0.7 5.1l0.7 3.7l0.7 1.7l0.7 0.4l0.7 -0.3l0.7 -0.8l0.7 -1.2l0.7 -1.8l0.7 -2.3l0.7 -2.7l0.7 -3.2l0.7 -3.6l0.7 -4.3l0.7 -5.5l0.7 -7l0.7 -8.7l0.7 -9.5l0.7 -9.7l0.7 -10.6l0.7 -10.6l0.7 -6.3l0.7 -1l0.7 1.8l0.7 1.8l0.7 -0.7l0.7 -3l0.7 -4l0.7 -9l0.7 -13.9l0.7 -14.1l0.7 -14.1l0.7 -14.1l0.7 -13.5l0.7 -12.1l0.7 -11l0.7 -9.9l0.7 -9l0.7 -8.4l0.7 -7.9l0.7 -7.6l0.7 -7.4l0.7 -7.5l0.7 -7.7l0.7 -6.7l0.7 -5.3l0.7 -4.4l0.7 -3.9l0.7 -3.9l0.7 -4.4l0.7 -5.3l0.7 -6.7l0.7 -10l0.7 -15.6l0.7 -17l0.7 -14.1l0.7 -8l0.7 -5.8l0.7 -4.9l0.7 -4.5l0.7 -4.9l0.7 -5.9l0.7 -7.3l0.7 -8.1l0.7 -8.2l0.7 -8.3l0.7 -8.4l0.7 -8.3l0.7 -8.2l0.7 -8l0.7 -7.7l0.7 -7.2l0.7 -6.8l0.7 -6.4l0.7 -6.4l0.7 -6.4l0.7 -6.8l0.7 -7.1l0.7 -7.8l0.7 -8.6l0.7 -9.1l0.7 -9.4l0.7 -9.6l0.7 -9.6l0.7 -9.4l0.7 -8.9l0.7 -8.9l0.7 -8.7l0.7 -8.6" fill="none" stroke="#0000ff" stroke-width="4.8" stroke-linejoin="round" stroke-linecap="butt"/>
<path d="M488.7 761.0l0.5 -9.1l0.5 -11.6l0.5 -8.3l0.5 -12.3l0.5 -7.6l0.5 -13.1l0.5 -7.2l0.5 -13.5l0.5 -7.2l0.5 -13.2l0.5 -7.3l0.5 -13l0.5 -7.1l0.5 -12.5l0.5 -7.5l0.5 -12.4l0.5 -7.8l0.5 -12.5l0.5 -6.7l0.5 -10.1l0.5 -4.5l0.5 -10l0.5 -4.4l0.5 -10.2l0.5 -4.4l0.5 -10.4l0.5 -4.7l0.5 -10.4l0.5 -5.1l0.5 -10l0.5 -5.2l0.5 -9.8l0.5 -5.2l0.5 -9.9l0.5 -5.5l0.5 -9.9l0.5 -4.9l0.5 -10l0.5 -4.5l0.5 -10.3l0.5 -4.5l0.5 -9.6l0.5 -5.1l0.5 -10.1l0.5 -5l0.5 -11l0.5 -3.9l0.5 -12l0.5 -0.4l0.5 -11l0.5 1.5l0.5 -10.5l0.5 0.4l0.5 -14.9l0.5 3.8l0.5 -19.6l0.2 12.5l0.2 -19.2l0.1 7.9l0.2 -13.9l0.2 9.2l0.2 -15.2l0.2 11.2l0.1 -17.4l0.2 13l0.2 -21.2l0.2 17.1l0.2 -22.1l0.1 18.3l0.3 -21.7l0.2 20.9l0.5 -23.1l0.5 23.3l0.5 -17.4l0.5 16l0.5 -19.9l0.5 16l0.5 -23.2l0.5 19l0.5 -25l0.5 24l0.5 -26.6l0.3 22.9l0.2 -23l0.3 21.2l0.2 -21.6l0.3 19.1l0.2 -19.3l0.3 17l0.2 -20.3l0.3 18.3l0.2 -20.4l0.3 18l0.2 -19.1l0.3 10.6l0.2 -13.7l0.3 10.7l0.2 -13.2l0.3 10.7l0.2 -13.4l0.3 11.1l0.2 -14.2l0.3 13.4l0.2 -18.3l0.3 19.1l0.2 -23.5l0.3 24.1l0.2 -29.5l0.3 28.4l0.2 -32.8l0.3 29.3l0.2 -30.7l0.3 26.8l0.2 -32l0.3 22.6l0.2 -26.4l0.3 23.3l0.2 -27.4l0.3 24.2l0.2 -27.4l0.3 23.9l0.2 -25.4l0.3 22.8l0.2 -24.7l0.3 20.9l0.2 -22.5l0.3 20l0.2 -22.5l0.3 20l0.2 -23.1l0.1 18.6l0.2 -20.6l0.2 16.5l0.2 -20.4l0.2 16.1l0.1 -19.7l0.2 14.7l0.2 -19.1l0.2 15.8l0.2 -19.5l0.1 15.2l0.2 -23.2l0.2 17.4l0.3 -23.8l0.2 20.3l0.3 -24.8l0.2 21.8l0.3 -24.6l0.2 20.8l0.3 -24.3l0.2 19.2l0.3 -14.9l0.2 10.9l0.3 -13.9l0.2 10.7l0.3 -13.9l0.2 9.7l0.3 -13l0.2 9.7l0.3 -15.2l0.2 12.2l0.3 -15.2l0.2 12.5l0.3 -16.5l0.2 10.6l0.3 -13.7l0.2 10.1l0.3 -13.4l0.2 8.8l0.3 -12l0.2 6.4l0.5 -10.5l0.5 -1.3l0.5 -8.9l0.5 6.4l0.5 2.2l0.5 8.7l0.5 -5.7l0.3 11.5l0.2 -9.1l0.3 13.1l0.2 -12.4l0.3 16l0.2 -13.1l0.3 17.8l0.1 -14.3l0.2 19.6l0.2 -12.1l0.2 17.1l0.2 -10.1l0.1 15l0.2 -10.9l0.2 16.6l0.2 -12.3l0.2 17l0.1 -12.7l0.2 15.8l0.3 -14.5l0.2 16.9l0.3 -15.4l0.2 19.1l0.3 -17.5l0.2 21.4l0.3 -20.8l0.2 24.2l0.3 -22.1l0.2 24.8l0.3 -22.1l0.2 26.6l0.3 -23.4l0.2 26.3l0.3 -21.6l0.2 24.3l0.3 -17.8l0.2 20.9l0.5 -19.6l0.3 18.2l0.2 -22.2l0.3 19.5l0.2 -22.6l0.3 18.7l0.2 -22l0.3 18.6l0.2 -21.8l0.3 18.3l0.1 -21.4l0.2 16.9l0.2 -22.1l0.2 15.6l0.2 -20.7l0.1 13.2l0.2 -19.2l0.2 11.5l0.2 -18l0.2 10.1l0.1 -15l0.2 8.2l0.2 -13.9l0.2 9l0.2 -15.2l0.5 7.6l0.5 -10l0.2 17l0.3 -14.8l0.2 17.8l0.3 -16l0.2 16.3l0.3 -13l0.2 16.8l0.3 -14.2l0.2 17l0.3 -14.9l0.2 18.5l0.3 -15.5l0.2 16.4l0.3 -14.3l0.2 15.8l0.3 -13.9l0.2 15.3l0.3 -12.6l0.2 14.4l0.3 -11.3l0.2 14.8l0.3 -11.9l0.2 15.8l0.2 -14.1l0.2 19.2l0.2 -17.4l0.1 23.2l0.2 -17.2l0.2 22.9l0.2 -17.8l0.2 24.4l0.1 -17.6l0.2 21.4l0.2 -16.9l0.2 22.3l0.2 -16l0.1 19.7l0.2 -14.2l0.2 19.7l0.2 -12.8l0.2 17.6l0.1 -11.2l0.2 16.5l0.2 -11.7l0.2 17.1l0.2 -10.9l0.5 7.8l0.2 -16.8l0.2 12.6l0.2 -17.2l0.1 13.6l0.2 -17.7l0.2 13.6l0.2 -18.2l0.2 14.6l0.1 -18.5l0.2 15.5l0.2 -19.9l0.2 15.3l0.2 -20.1l0.1 16.3l0.2 -20.1l0.2 16.5l0.2 -21.9l0.2 15.8l0.1 -20.6l0.2 17.9l0.3 -21.8l0.2 18l0.5 -19.2l0.5 19.8l0.5 -20.5l0.5 18.9l0.5 -20.3l0.5 20.2l0.5 -25.6l0.5 27.7l0.3 -27l0.2 28.2l0.3 -28l0.2 36.3l0.3 -32l0.2 39.8l0.3 -32.1l0.2 33.2l0.3 -31.1l0.2 34.6l0.3 -31l0.2 31.9l0.3 -28.5l0.2 29.9l0.3 -26.1l0.2 27.4l0.3 -23.8l0.2 25.1l0.3 -22.4l0.2 23.9l0.3 -21l0.2 25.7l0.3 -22.6l0.2 23.4l0.3 -20.2l0.2 23.5l0.3 -19.6l0.2 21.4l0.3 -25.4l0.2 29l0.3 -26.1l0.2 28.1l0.5 -26.5l0.5 23.4l0.3 -28.3l0.2 27.1l0.3 -28.4l0.2 24.9l0.3 -27.9l0.2 24.9l0.3 -27.9l0.2 26.1l0.3 -28l0.2 24.6l0.3 -29.9l0.2 28.2l0.3 -30.9l0.2 28l0.3 -28.4l0.5 25.9l0.5 -28l0.5 23.9l0.5 -27.4l0.5 27.2l0.5 -27.3l0.5 25.6l0.5 -29l0.5 22.8l0.5 -24.4l0.5 24.2l0.2 -17.1l0.3 22.2l0.2 -17l0.3 20.3l0.2 -16.7l0.3 22.6l0.2 -18.1l0.3 25.4l0.2 -21.9l0.3 25.4l0.2 -21.8l0.3 26.8l0.2 -22.6l0.3 28.1l0.2 -23l0.3 23.4l0.5 -24.4l0.2 15.1l0.3 -19.1l0.2 12.8l0.3 -16.2l0.2 12.7l0.3 -16.7l0.2 13.8l0.3 -15.3l0.2 13.1l0.3 -17.2l0.2 17.2l0.3 -19.1l0.2 20l0.3 -23.9l0.2 24.8l0.3 -28.7l0.2 27.4l0.3 -29.5l0.2 26l0.3 -27.9l0.2 25.5l0.3 -29l0.2 30l0.5 -34.5l0.5 33l0.5 -34.8l0.5 35.9l0.5 -37.3l0.5 35.4l0.5 -37.4l0.5 38.3l0.5 -39.2l0.5 31.1l0.5 -31.4l0.5 26.6l0.5 -28.3l0.3 27.8l0.2 -23.1l0.2 30l0.2 -26l0.2 30.4l0.1 -25.3l0.2 28.9l0.2 -23l0.2 27.7l0.2 -22.1l0.1 25.8l0.2 -20.2l0.2 25.9l0.2 -21.9l0.2 26.2l0.2 -26.3l0.5 26.5l0.5 -27.2l0.5 35.2l0.5 -30.8l0.5 38.6l0.5 -38.2l0.5 37.3l0.5 -30.8l0.5 22.7l0.5 -23.8l0.5 23.4l0.5 -27.5l0.5 20.6l0.5 -28.2l0.5 28.3l0.5 -30.4l0.5 34.8l0.5 -38l0.5 45.6l0.5 -41.2l0.5 40.9l0.5 -40.6l0.5 46.1l0.5 -49.2l0.5 56.8l0.5 -55.7l0.5 55.2l0.5 -58.3l0.5 61.6l0.5 -60.3l0.5 60l0.5 -64.1l0.5 61.6l0.5 -56.4l0.5 53.1l0.5 -49.1l0.5 48.9l0.5 -47.3l0.5 47.4l0.5 -51.3l0.5 42.1l0.5 -39.3l0.5 35.4l0.5 -39.4l0.5 40.7l0.5 -45.3l0.5 67.2l0.5 -68.8l0.5 77.1l0.5 -79.9l0.5 72.7l0.5 -71l0.5 45.7l0.5 -47.2l0.5 49l0.5 -45.7l0.5 55.2l0.5 -52l0.5 53l0.5 -56.7l0.5 51.6l0.5 -56.2l0.5 49.5l0.5 -52.4l0.5 50.6l0.5 -51.5l0.5 74.6l0.5 -67.3l0.5 70.9l0.5 -71l0.5 69.1l0.5 -65.9l0.5 61.5l0.5 -57.8l0.5 59l0.5 -59.3l0.5 58.7l0.5 -64.3l0.5 66.7l0.5 -72l0.5 69.2l0.5 -70l0.5 67.6l0.5 -86.6l0.5 82.9l0.5 -74.6l0.5 74.3l0.5 -62.9l0.5 64.2l0.5 -55.8l0.5 53.5l0.5 -55.7l0.5 55.1l0.5 -63l0.5 66.3l0.5 -70l0.5 70.5l0.5 -73.7l0.5 71.7l0.5 -69.5l0.5 50l0.5 -56.2l0.5 61.9l0.5 -61.6l0.5 72l0.5 -71.3l0.5 83.6l0.5 -81.5l0.5 78.7l0.5 -79.2l0.5 82.2l0.5 -61.6l0.5 60.7l0.5 -68.3l0.5 64.1l0.5 -74.6l0.5 68.4l0.5 -86.5l0.5 86.2l0.5 -85.4l0.5 83.5l0.5 -63l0.5 69l0.5 -63.9l0.5 66.3l0.5 -68.6l0.5 70.2l0.5 -69.5l0.5 70.4l0.5 -67.6l0.5 66.9l0.5 -68.1l0.5 83.5l0.5 -82.6l0.5 81.2l0.5 -83.5l0.5 78.6l0.5 -85.1l0.5 80.4l0.5 -77.2l0.5 71.5l0.5 -70.5l0.5 65.8l0.5 -65l0.5 63.8l0.5 -58.5l0.5 58l0.5 -59.8l0.5 56.6l0.5 -52.7l0.5 52.4l0.5 -56.4l0.5 55.6l0.5 -66.8l0.5 56.3l0.5 -54.6l0.5 55.5l0.5 -49.6l0.5 58.5l0.5 -48.5l0.5 49l0.5 -44.9l0.5 47.8l0.5 -49.2l0.5 49.4l0.5 -46.1l0.5 46.9l0.5 -47.1l0.5 45.2l0.5 -49.4l0.5 47.2l0.5 -59.5l0.5 61.3l0.5 -58l0.5 59.7l0.5 -60.3l0.5 58.1l0.5 -59.5l0.5 63.1l0.5 -68l0.5 71l0.5 -74.4l0.5 81.4l0.5 -81.3l0.5 81.6l0.5 -70.5l0.5 64.7l0.5 -54.3l0.5 57.2l0.5 -57.1l0.5 54.7l0.5 -70.1l0.5 71.3l0.5 -78.2l0.5 74.9l0.5 -72l0.5 76.5l0.5 -72.5l0.5 75.1l0.5 -76.3l0.5 71.9l0.5 -80.3l0.5 81l0.5 -84.8l0.5 83.5l0.5 -68.4l0.5 64.6l0.5 -48.5l0.5 48.6l0.5 -49.1l0.5 46.8l0.5 -54.2l0.5 56.4l0.5 -61l0.5 60.1l0.5 -59.2l0.5 50.9l0.5 -46.9l0.5 36.6l0.5 -34.3l0.5 36.9l0.5 -34.7l0.5 49l0.5 -45.7l0.5 56.3l0.5 -51.9l0.5 50.6l0.5 -49.6l0.5 38.5l0.5 -45.8l0.5 35.7l0.5 -37.4l0.5 37.6l0.5 -41.7l0.5 60.3l0.5 -68.6l0.5 68.4l0.5 -69.5l0.5 65.6l0.5 -63.7l0.5 58.4l0.5 -47.3l0.5 47.9l0.5 -48.2l0.5 54.8l0.5 -52.4l0.5 55.2l0.5 -54.8l0.5 52.7l0.5 -56.5l0.5 55.3l0.5 -67.1l0.5 65.3l0.5 -63.5l0.5 59.6l0.5 -62.8l0.5 54.4l0.5 -54.8l0.5 56.9l0.5 -56.1l0.5 64.9l0.5 -65.7l0.5 76.4l0.5 -77.5l0.5 73.4l0.5 -73.8l0.5 71.2l0.5 -57.3l0.5 52.4l0.5 -47.8l0.5 51.3l0.5 -52.7l0.5 49.1l0.5 -53.8l0.5 54.1l0.5 -56.7l0.5 55.1l0.5 -56.7l0.5 58.9l0.5 -61.6l0.5 60.1l0.5 -63.2l0.5 67.9l0.5 -58.2l0.5 60.6l0.5 -54.5l0.5 54.6l0.5 -55.9l0.5 58.4l0.5 -58.9l0.5 55.9l0.5 -54.2l0.5 55.9l0.5 -58.4l0.5 53l0.5 -65.7l0.5 64.9l0.5 -64.2l0.5 56.1l0.5 -59.7l0.5 52.9l0.5 -57.5l0.5 60.3l0.5 -55.1l0.5 63.9l0.5 -44.8l0.5 44.8l0.5 -44.5l0.5 44.7l0.5 -39.6l0.5 44.7l0.5 -40.7l0.5 40.1l0.5 -39.1l0.5 38.3l0.5 -41l0.5 53.5l0.5 -57.5l0.5 62.8l0.5 -62.4l0.5 59.7l0.5 -62.4l0.5 50.7l0.5 -54.2l0.5 54.2l0.5 -52.2l0.5 48.2l0.5 -56.2l0.5 53.2l0.5 -52.9l0.5 56.5l0.5 -61.7l0.5 65.1l0.5 -67l0.5 74.3l0.5 -75l0.5 60.7l0.5 -55l0.5 54.7l0.5 -53.8l0.5 57.9l0.5 -52l0.5 50.4l0.5 -51.1l0.5 51.4l0.5 -50.3l0.5 49.6l0.5 -56.1l0.5 58.4l0.5 -61.3l0.5 58.3l0.5 -51l0.5 45.7l0.5 -42.1l0.5 37l0.5 -36.9l0.5 35.2l0.5 -37.4l0.5 39.8l0.5 -46.1l0.5 69.1l0.5 -67.4l0.5 63.6l0.5 -60.5l0.5 58.4l0.5 -58.8l0.5 59.4l0.5 -70.8l0.5 67l0.5 -83.6l0.5 78.8l0.5 -80.6l0.5 81.2l0.5 -74.4l0.5 71.2l0.5 -62.3l0.5 56.5l0.5 -54.6l0.5 52.1l0.5 -43.3l0.5 58.9l0.5 -53.2l0.5 52.2l0.5 -49.5l0.5 56.5l0.5 -57.1l0.5 59.4l0.5 -59.1l0.5 60l0.5 -63.6l0.5 45.1l0.5 -44.1l0.5 43.4l0.5 -46.4l0.5 45.9l0.5 -40.1l0.5 38.4l0.5 -33.8l0.5 32.8l0.5 -30l0.5 29.7l0.5 -32.8l0.5 44.4l0.5 -50.1l0.5 50.6l0.5 -49.8l0.5 39.7l0.5 -39.3l0.5 31.7l0.5 -32l0.5 31.4l0.5 -29.8l0.5 26.1l0.5 -35.5l0.5 35.3l0.5 -40.3l0.5 47.3l0.5 -48l0.5 55.4l0.5 -42.6l0.5 43l0.5 -42.3l0.5 40.6l0.5 -42.8l0.5 41.8l0.5 -40.3l0.5 39.6l0.5 -38.7l0.5 41.2l0.5 -39l0.5 41.1l0.5 -42.4l0.5 45.8l0.5 -49l0.5 48.1l0.5 -55.8l0.5 56.9l0.5 -57.8l0.5 57.6l0.5 -65.2l0.5 78.3l0.5 -87.5l0.5 88.5l0.5 -92.5l0.5 85.5l0.5 -76.4l0.5 77.7l0.5 -85l0.5 84.7l0.5 -95.9l0.5 96.1l0.5 -102.2l0.5 98.4l0.5 -90.4l0.5 91.9l0.5 -85.8l0.5 90.2l0.5 -80.1l0.5 76.4l0.5 -77.6l0.5 86.6l0.5 -104.6l0.5 110.6l0.5 -117.5l0.5 119.6l0.5 -115.7l0.5 116.3l0.5 -105.5l0.5 108.6l0.5 -108.1l0.5 107.9l0.5 -104.4l0.5 96.2l0.5 -95.9l0.5 104.7l0.5 -94.1l0.5 90.9l0.5 -77.3l0.5 70.9l0.5 -65.4l0.5 68.2l0.5 -74.4l0.5 31.6l0.5 -34.9l0.5 35.6l0.5 -33.4l0.5 39.3l0.5 -44.1l0.5 52.5l0.5 -53.3l0.3 54.1l0.2 -52l0.2 58.3l0.2 -48.7l0.2 54.3l0.1 -50.1l0.2 59.3l0.2 -60.9l0.2 67.3l0.2 -64.2l0.1 68.9l0.2 -66.3l0.2 75.2l0.2 -67.3l0.2 75.2l0.1 -71.7l0.2 80l0.2 -69.5l0.2 73.7l0.2 -68.2l0.1 79.5l0.2 -71.5l0.2 84.4l0.2 -77.8l0.2 85l0.1 -74.8l0.2 85.4l0.2 -74.2l0.2 79.6l0.2 -72.9l0.1 77.1l0.2 -70.2l0.2 73.5l0.2 -69.9l0.2 71.1l0.1 -68l0.2 67.3l0.2 -63.9l0.2 64.4l0.2 -60.9l0.1 60.3l0.2 -57.5l0.2 62.3l0.2 -59.6l0.2 62.9l0.1 -58.7l0.2 62.8l0.2 -55.9l0.2 62.7l0.2 -54.8l0.1 70.8l0.2 -62.3l0.2 78.5l0.2 -71.2l0.2 85l0.1 -80.6l0.2 85.1l0.2 -77.5l0.2 87.4l0.2 -83.2l0.1 80.7l0.2 -75.4l0.2 82l0.2 -77.7l0.2 76.4l0.1 -71.2l0.2 69.7l0.2 -66.1l0.2 69l0.2 -64.5l0.1 65.8l0.2 -62.2l0.2 66l0.2 -59.4l0.2 67.1l0.1 -61.2l0.2 65l0.2 -62.1l0.2 62.3l0.2 -58l0.1 63.4l0.2 -57.2l0.2 58.9l0.2 -55.6l0.2 59.9l0.1 -53.8l0.2 54.8l0.2 -48.6l0.2 51.9l0.2 -48.8l0.1 54.3l0.2 -49.3l0.2 54.7l0.2 -49.4l0.2 51.7l0.1 -47l0.2 54.3l0.2 -48.1l0.2 58.6l0.2 -63.8l0.1 67.9l0.2 -73.6l0.2 79.9l0.2 -75.4l0.2 76.7l0.1 -71.7l0.2 76.8l0.2 -71.6l0.2 76.3l0.2 -71l0.1 75.5l0.2 -73.5l0.2 77.9l0.2 -67.7l0.2 67.3l0.1 -63.1l0.2 71.3l0.2 -64.9l0.2 67.1l0.2 -64.4l0.1 68.8l0.2 -64.9l0.2 69.3l0.2 -61.7l0.2 68.1l0.1 -62.2l0.2 66.2l0.2 -64.5l0.2 65.8l0.2 -61.4l0.1 65.6l0.2 -59.2l0.2 65.9l0.2 -58.2l0.2 63.1l0.1 -55l0.2 60.5l0.2 -56.6l0.2 65.5l0.2 -63.1l0.1 67.6l0.2 -62.1l0.2 73.5l0.2 -66.4l0.2 75.9l0.1 -72.2l0.2 79.3l0.2 -72.4l0.2 80.6l0.2 -76.2l0.1 79.7l0.3 -77.6l0.2 80.6l0.3 -75.1l0.2 81.9l0.3 -83.2l0.2 82.9l0.3 -83.2l0.2 83l0.3 -80.9l0.2 83.3l0.3 -80.9l0.2 82.9l0.3 -75.4l0.2 80.2l0.3 -73.3l0.2 77.2l0.3 -75.5l0.2 69.6l0.3 -63l0.2 66.6l0.3 -62.5l0.2 67.4l0.3 -60.3l0.2 63.3l0.3 -61.5l0.2 65.4l0.3 -61.3l0.2 66l0.3 -50.8l0.2 54.3l0.3 -50.9l0.2 56.3l0.3 -53l0.2 56.3l0.3 -53.3l0.2 54l0.3 -58l0.2 62.4l0.3 -66.6l0.2 71.2l0.3 -76.4l0.2 77.5l0.3 -81.3l0.2 84.9l0.3 -81.6l0.2 86.2l0.2 -83.2l0.2 88.7l0.2 -85.4l0.2 87.7l0.1 -69.7l0.2 72.1l0.2 -60.7l0.2 66.4l0.2 -60.5l0.1 61.3l0.2 -55.9l0.2 61.1l0.2 -55.3l0.2 59.6l0.1 -49.9l0.2 54.7l0.2 -55.7l0.2 60.5l0.2 -50.4l0.1 59.8l0.2 -55.6l0.2 75l0.2 -73.3l0.2 77.9l0.1 -74l0.2 78.9l0.2 -73.8l0.2 79.5l0.2 -72.5l0.1 77.8l0.2 -73.4l0.2 76.4l0.2 -74.7l0.2 68.8l0.1 -75.7l0.2 78.5l0.2 -81.7l0.2 76.2l0.2 -72.8l0.1 73.3l0.2 -65.6l0.2 67l0.2 -62.7l0.2 67.7l0.1 -64.1l0.2 64.5l0.2 -64l0.2 70.1l0.2 -59.4l0.1 66.2l0.2 -62.2l0.2 74.4l0.2 -72.5l0.2 85.8l0.1 -73.1l0.2 89l0.2 -78l0.2 91l0.2 -79.8l0.1 89.7l0.2 -73.6l0.2 84.3l0.2 -73.9l0.2 78.8l0.1 -69.3l0.2 65.2l0.2 -58.7l0.2 62.1l0.2 -56.8l0.1 58.4l0.2 -56.2l0.2 56.6l0.2 -53l0.2 58.7l0.1 -54.3l0.2 54.9l0.2 -53.1l0.2 55.4l0.2 -47.8l0.1 42.1l0.2 -38.2l0.2 38.9l0.2 -32.1l0.2 36.7l0.1 -32.6l0.2 35.8l0.2 -31.2l0.2 34.6l0.2 -27.5l0.1 32.3l0.2 -25.2l0.2 29.8l0.2 -23.7l0.2 27.8l0.1 -22.8l0.3 26.6l0.2 -18.9l0.3 22.3l0.2 -16.7l0.3 20.6l0.2 -16.1l0.3 20.1l0.2 -14.9l0.3 20.9l0.2 -17.4l0.3 20.7l0.2 -14.9l0.3 16.6l0.2 -11.8l0.1 13.9l0.5 -5.3l0.5 9.7l0.5 -2.3l0.5 -4.3l0.5 -16.4l0.5 -3.9l0.2 -12.6l0.2 7.4l0.2 -15.4l0.2 13.2l0.1 -22.1l0.2 17.9l0.2 -28l0.2 23l0.2 -31.2l0.1 27.5l0.2 -32l0.2 26.7l0.2 -33.5l0.2 32.6l0.1 -35.5l0.3 32l0.2 -34l0.3 31.8l0.2 -35.2l0.3 35l0.2 -36.7l0.3 34.5l0.2 -33.7l0.3 35.4l0.2 -36.1l0.3 35.6l0.2 -39.7l0.3 36.5l0.2 -38.6l0.3 38.6l0.2 -47.7l0.5 63.4l0.5 -73.6l0.5 72.3l0.5 -69.4l0.5 41.5l0.5 -38.8l0.5 36.9l0.5 -40.5l0.5 37.8l0.5 -40l0.5 36l0.5 -40.6l0.5 38.1l0.3 -43.9l0.2 42.4l0.3 -43.3l0.2 42.5l0.3 -46.5l0.2 41.9l0.3 -43.2l0.2 41.6l0.3 -45.3l0.2 45.9l0.3 -49.5l0.2 54.7l0.3 -69.8l0.2 73.8l0.3 -77.3l0.2 86.6l0.3 -87.1l0.2 89.5l0.3 -91.3l0.2 84l0.3 -78.7l0.2 78.4l0.3 -73.3l0.2 72.2l0.3 -77l0.2 68.6l0.3 -70.8l0.2 61.4l0.3 -65l0.2 60.3l0.3 -65.7l0.2 61.9l0.3 -60.1l0.2 57.1l0.3 -63.7l0.5 72.6l0.5 -79.9l0.5 79.2l0.5 -81l0.5 80.4l0.5 -81.4l0.5 63.6l0.5 -51.5l0.5 44.3l0.5 -53.6l0.5 52.9l0.5 -51.1l0.5 51.8l0.5 -46.4l0.5 57.8l0.5 -54.9l0.5 62.3l0.5 -60.8l0.5 63.7l0.5 -73.2l0.5 64.7l0.5 -93l0.5 92.1l0.5 -95.1l0.5 103.4l0.5 -75.9l0.5 77.1l0.5 -76.4l0.5 86.6l0.5 -82.3l0.5 73.3l0.5 -69.7l0.5 92.1l0.5 -93.7l0.5 105.4l0.5 -111.1l0.5 116.7l0.5 -104.9l0.5 51.4l0.5 -66.3l0.5 58.8l0.5 -60l0.5 56.8l0.5 -58.5l0.5 59.4l0.5 -82.5l0.5 85.5l0.5 -84.5l0.5 83.2l0.5 -60.9l0.5 59.3l0.5 -41.5l0.5 39.1l0.5 -52.6l0.5 52l0.5 -47.7l0.5 60.7l0.5 -57.3l0.5 76.7l0.5 -67.9l0.5 80.1l0.5 -83l0.5 78.5l0.5 -75.4l0.5 58.6l0.5 -69.3l0.5 68.4l0.5 -70.7l0.5 62.2l0.5 -66l0.5 55.9l0.5 -42.6l0.5 36.9l0.5 -45.1l0.5 44.5l0.5 -42.8l0.5 44.1l0.5 -39.3l0.5 43.4l0.5 -44.4l0.5 49.8l0.5 -48.8l0.5 50.7l0.5 -86.1l0.5 80.6l0.5 -90.5l0.5 91.6l0.5 -80.5l0.5 74l0.5 -54l0.5 77.5l0.5 -56.8l0.5 52.8l0.5 -63.9l0.5 64.8l0.5 -66.8l0.5 67.8l0.5 -65.5l0.5 69.4l0.5 -66l0.5 63.3l0.5 -61.8l0.5 64.1l0.5 -63.1l0.5 41.1l0.5 -40.3l0.5 38.9l0.5 -35.2l0.5 33.1l0.5 -48.3l0.5 74.4l0.5 -72.3l0.5 76.7l0.5 -72.4l0.5 73.8l0.5 -67.3l0.5 72.4l0.5 -90.6l0.5 93.4l0.5 -100.1l0.5 93.1l0.5 -94.5l0.5 76.1l0.5 -91.9l0.5 87l0.5 -83.6l0.5 84l0.5 -50.4l0.5 47.6l0.5 -50.4l0.5 59.8l0.5 -59.7l0.5 59.1l0.5 -62.6l0.5 52.8l0.5 -65.7l0.5 92.5l0.5 -97.5l0.5 96.7l0.5 -95.1l0.5 75.6l0.5 -49.2l0.5 37.1l0.5 -56.9l0.5 56.4l0.5 -58.1l0.5 59l0.5 -56.9l0.5 59.5l0.5 -60.2l0.5 60l0.5 -57.3l0.5 53.2l0.5 -54.1l0.5 54.6l0.5 -48.8l0.5 49.3l0.5 -46.6l0.5 45.7l0.5 -47.2l0.5 47.5l0.5 -51.6l0.5 57.1l0.5 -59.7l0.5 59.8l0.5 -38.5l0.5 35l0.5 -46.6l0.5 54l0.5 -50.9l0.5 62.2l0.5 -60.7l0.5 57.3l0.5 -54.3l0.5 47.6l0.5 -45.2l0.5 49.5l0.5 -48.2l0.5 51.8l0.5 -55.4l0.5 59.7l0.5 -66.3l0.5 65.5l0.5 -73l0.5 65.8l0.5 -64.9l0.5 57.8l0.5 -58.2l0.5 57.3l0.5 -53l0.5 44.7l0.5 -32.2l0.5 37.7l0.5 -42l0.5 42.6l0.5 -51.4l0.5 52.5l0.5 -51.2l0.5 45.6l0.5 -37.4l0.5 34.5l0.5 -34.6l0.5 36.5l0.5 -32.8l0.5 37.4l0.5 -67.7l0.5 74.4l0.5 -88.9l0.5 90.1l0.5 -85.5l0.5 72.7l0.5 -47.7l0.5 50l0.5 -32.7l0.5 33.3l0.5 -33.5l0.5 44.7l0.5 -45l0.5 74.7l0.5 -80l0.5 76.2l0.5 -79.1l0.5 77l0.5 -74.7l0.5 54.8l0.5 -50.5l0.5 34l0.5 -42.2l0.5 40.9l0.5 -45.6l0.5 47.2l0.5 -51.5l0.5 55.1l0.5 -69.5l0.5 69.7l0.5 -75.8l0.5 69.9l0.5 -43.8l0.5 56.4l0.5 -51.9l0.5 58.4l0.5 -56l0.5 56l0.5 -51.7l0.5 43.7l0.5 -55.3l0.5 53.4l0.5 -52l0.5 45.6l0.5 -42.7l0.5 40.5l0.5 -34.9l0.5 33.8l0.5 -34.9l0.5 35.7l0.5 -41.4l0.5 41.2l0.5 -58.2l0.5 58.5l0.5 -53.8l0.5 53l0.5 -42.9l0.5 43.9l0.5 -36.4l0.5 40.4l0.5 -39.5l0.5 42.8l0.5 -44.4l0.5 47.1l0.5 -49.8l0.5 52.7l0.5 -52.4l0.5 52.5l0.5 -52.7l0.5 52.6l0.5 -52.2l0.5 53.5l0.5 -65.3l0.5 63.7l0.5 -63.3l0.5 66.1l0.5 -53.8l0.5 41.9l0.5 -39.7l0.5 39.5l0.5 -37.9l0.5 36.2l0.5 -43.8l0.5 51.3l0.5 -58.7l0.5 56.8l0.5 -55.3l0.5 57.1l0.5 -50.6l0.5 53.8l0.5 -47.8l0.5 50l0.5 -49.9l0.5 49l0.5 -49.7l0.5 50.1l0.5 -52.8l0.5 50.8l0.5 -51.3l0.5 51.5l0.5 -50.5l0.5 40l0.5 -33.9l0.5 73.4l0.5 -75.4l0.5 72.5l0.5 -74.6l0.5 65.9l0.5 -65.1l0.5 52.1l0.5 -53.2l0.5 50.1l0.5 -48l0.5 46.7l0.5 -46.7l0.5 49.4l0.5 -72.2l0.5 70.4l0.5 -72.7l0.5 72.5l0.5 -70.4l0.5 66.7l0.5 -59.3l0.5 54.8l0.5 -55.5l0.5 55.2l0.5 -51.3l0.5 52.2l0.5 -39.8l0.5 38.8l0.5 -56.8l0.5 57.8l0.5 -63.1l0.5 71.8l0.5 -65.7l0.5 69.5l0.5 -56.4l0.5 56.8l0.5 -56.3l0.5 55.4l0.5 -61.4l0.5 56.7l0.5 -59.1l0.5 58l0.5 -57.7l0.5 57.2l0.5 -56.6l0.5 46.5l0.5 -38.9l0.5 38.8l0.5 -42l0.5 42.1l0.5 -41.6l0.5 42.2l0.5 -49.6l0.5 49.5l0.5 -50.4l0.5 48.9l0.5 -56.7l0.5 57.5l0.5 -39.3l0.5 55.8l0.5 -52.6l0.5 70.3l0.5 -72.9l0.5 75.8l0.5 -76.2l0.5 45.7l0.5 -50.6l0.5 49.5l0.5 -43.9l0.5 43.2l0.5 -37l0.5 31.8l0.5 -41.4l0.5 45.3l0.5 -53.7l0.5 53.9l0.5 -54l0.5 78.3l0.5 -62.2l0.5 69l0.5 -80.9l0.5 72.4l0.5 -72.3l0.5 65.6l0.5 -75.1l0.5 65.7l0.5 -80.9l0.5 77.2l0.5 -73.6l0.5 72.1l0.5 -45.9l0.5 73.1l0.5 -83.3l0.5 85.2l0.5 -84.9l0.5 50.4l0.5 -38.8l0.5 43.5l0.5 -40.6l0.5 40.9l0.5 -45.8l0.5 42.3l0.5 -42.9l0.5 43l0.5 -35.4l0.5 36.9l0.5 -36.8l0.5 36.7l0.5 -43.2l0.5 41l0.5 -48.6l0.5 49.1l0.5 -52.2l0.5 50.9l0.5 -52.6l0.5 71.4l0.5 -70.3l0.5 69.5l0.5 -67.8l0.5 64.2l0.5 -60.3l0.5 56.9l0.5 -52.4l0.5 49l0.5 -52.8l0.5 49.4l0.5 -47.3l0.5 47.9l0.5 -42.3l0.5 36.5l0.5 -32.8l0.5 33.4l0.5 -32.3l0.5 32.1l0.5 -29l0.5 33.4l0.5 -37.6l0.5 45.8l0.5 -44.2l0.5 42.7l0.5 -66.8l0.5 62.3l0.5 -68.8l0.5 65.5l0.5 -66.3l0.5 68l0.5 -50.1l0.5 47.6l0.5 -32l0.5 29.5l0.5 -41.7l0.5 42.6l0.5 -39.4l0.5 39.4l0.5 -30.7l0.5 32.1l0.5 -46.3l0.5 46.9l0.5 -48l0.5 47.8l0.5 -45.1l0.5 44.5l0.5 -45.2l0.5 44.4l0.5 -42.7l0.5 41.7l0.5 -33.3l0.5 32.2l0.5 -36.9l0.5 38l0.5 -37.7l0.5 37.8l0.5 -35.2l0.5 37l0.5 -32.3l0.5 33l0.5 -31.4l0.5 29.9l0.5 -31.4l0.5 29.5l0.5 -45.3l0.5 43.1l0.5 -46.2l0.5 47.2l0.5 -30l0.5 36.1l0.5 -45.3l0.5 46.8l0.5 -68.4l0.5 71.3l0.5 -73.1l0.5 76.4l0.5 -52.7l0.5 54l0.5 -51.1l0.5 49.3l0.5 -49.6l0.5 38l0.5 -34.5l0.5 58.8l0.5 -55.8l0.5 49.1l0.5 -50.4l0.5 47.2l0.5 -45.4l0.5 33.4l0.5 -33.8l0.5 30.4l0.5 -29.2l0.5 29.6l0.5 -35.4l0.5 34.6l0.5 -48.3l0.5 47.7l0.5 -49l0.5 48.4l0.5 -36.9l0.5 38.6l0.5 -29l0.5 28.1l0.5 -29.2l0.5 29.5l0.5 -29.4l0.5 29l0.5 -28.2l0.5 29l0.5 -42.1l0.5 41.4l0.5 -43.6l0.5 46l0.5 -34.4l0.5 33.7l0.5 -34.2l0.5 34.7l0.5 -40.5l0.5 40.8l0.5 -41l0.5 41.8l0.5 -53.7l0.5 53.8l0.5 -52.4l0.5 52.5l0.5 -34.7l0.5 44l0.5 -53.3l0.5 54l0.5 -53.4l0.5 50.8l0.5 -44.9l0.5 37.2l0.5 -37l0.5 42.7l0.5 -40l0.5 49.5l0.5 -51.1l0.5 51l0.5 -56.9l0.5 47.3l0.5 -75.4l0.5 76.1l0.5 -75.9l0.5 68.2l0.5 -57.8l0.5 73.2l0.5 -57.2l0.5 56.3l0.5 -48.3l0.5 39.4l0.5 -38.2l0.5 38.9l0.5 -38.1l0.5 58.7l0.5 -56.4l0.5 59.2l0.5 -61l0.5 53.2l0.5 -98.1l0.5 89.8l0.5 -87.5l0.5 90.5l0.5 -80l0.5 67.9l0.5 -56.4l0.5 58.6l0.5 -43.2l0.5 53.9l0.5 -54.9l0.5 55.7l0.5 -52l0.5 36.4l0.5 -44.6l0.5 42.7l0.5 -41.7l0.5 44.6l0.5 -37l0.5 42.7l0.5 -48.4l0.5 46l0.5 -48l0.5 46.2l0.5 -44.6l0.5 39.9l0.5 -45.7l0.5 48.4l0.5 -46.9l0.5 49.5l0.5 -40l0.5 34.4l0.5 -49.4l0.5 56.1l0.5 -56.7l0.5 60.1l0.5 -62.4l0.5 64.2l0.5 -64.5l0.5 54.2l0.5 -55.5l0.5 56.1l0.5 -52.3l0.5 52.9l0.5 -37.8l0.5 72.9l0.5 -74.4l0.5 80.4l0.5 -82.8l0.5 70.3l0.5 -70.3l0.5 50l0.5 -52l0.5 46.5l0.5 -46.8l0.5 46.1l0.5 -43.4l0.5 45.6l0.5 -40.9l0.5 41.3l0.5 -41.4l0.5 44.3l0.5 -45.6l0.5 39.5l0.5 -39.3l0.5 45.6l0.5 -43.8l0.5 41.6l0.5 -40.3l0.5 44.3l0.5 -53.7l0.5 56.9l0.5 -59.7l0.5 60.4l0.5 -62.2l0.5 52.2l0.5 -39.3l0.5 37l0.5 -45.6l0.5 52.5l0.5 -51.5l0.5 49.8l0.5 -44.6l0.5 38.2l0.5 -68.7l0.5 100.1l0.5 -99.4l0.5 102.3l0.5 -88.8l0.5 56.4l0.5 -40.8l0.5 42.6l0.5 -41.8l0.5 46.2l0.5 -45.8l0.5 60l0.5 -57.5l0.5 61.7l0.5 -61.3l0.5 62.1l0.5 -62.5l0.5 66.9l0.5 -67.3l0.5 64.4l0.5 -65l0.5 72.9l0.5 -71.5l0.5 51.6l0.5 -55.9l0.5 38.3l0.5 -38.9l0.5 70.9l0.5 -67.3l0.5 68.4l0.5 -75.8l0.5 54.6l0.5 -66.6l0.5 55.6l0.5 -53.9l0.5 53.2l0.5 -38.8l0.5 42.6l0.5 -50l0.5 54.6l0.5 -54.2l0.5 54.1l0.5 -47.8l0.5 50.3l0.5 -48.8l0.5 46.9l0.5 -46.3l0.5 47.2l0.5 -48.4l0.5 48.6l0.5 -53l0.5 57.7l0.5 -55.4l0.5 58l0.5 -66.1l0.5 55.1l0.5 -59.7l0.5 59.9l0.5 -65.1l0.5 87.4l0.5 -86.4l0.5 88l0.5 -83.2l0.5 54.1l0.5 -56.4l0.5 53.9l0.5 -54.1l0.5 66.4l0.5 -65.6l0.5 99.1l0.5 -85.7l0.5 81.4l0.5 -81.3l0.5 60.8l0.5 -61l0.5 45l0.5 -52.6l0.5 50.4l0.5 -51.5l0.5 55.6l0.5 -48.1l0.5 60.3l0.5 -56.9l0.5 79.9l0.5 -75.6l0.5 72.6l0.5 -73.1l0.5 78.5l0.5 -100.9l0.5 73l0.5 -68.7l0.5 69.3l0.5 -73.1l0.5 68.2l0.5 -65.6l0.5 56.2l0.5 -56.4l0.5 56.4l0.5 -56.3l0.5 56l0.5 -57.2l0.5 58.2l0.5 -67.1l0.5 65.6l0.5 -70.6l0.5 68.4l0.5 -42.9l0.5 51.4l0.5 -42l0.5 62.5l0.5 -62.4l0.5 64.5l0.5 -64.9l0.5 52l0.5 -60.1l0.5 43.3l0.5 -47.6l0.5 47.6l0.5 -48.3l0.5 48.7l0.5 -52l0.5 63.2l0.5 -61.4l0.5 72.9l0.5 -73.2l0.5 68.8l0.5 -58.9l0.5 45.1l0.5 -40.7l0.5 34.1l0.5 -34.1l0.5 32.6l0.5 -43.8l0.5 46.4l0.5 -51.4l0.5 54.9l0.5 -53.3l0.5 55.2l0.5 -49.3l0.5 41.7l0.5 -33l0.5 39.9l0.5 -35.8l0.5 35.6l0.5 -35.6l0.5 32.1l0.5 -36.9l0.5 36.7l0.5 -49l0.5 52.1l0.5 -60.4l0.5 61.3l0.5 -56.4l0.5 52.7l0.5 -44.8l0.5 67.5l0.5 -72.1l0.5 69.7l0.5 -70l0.5 67.4l0.5 -69.7l0.5 69.3l0.5 -69.2l0.5 67.5l0.5 -64l0.5 48l0.5 -46.1l0.5 46.7l0.5 -45l0.5 46.3l0.5 -43.5l0.5 46.4l0.5 -45.6l0.5 47.5l0.5 -47.8l0.5 53.6l0.5 -55.6l0.5 52.8l0.5 -48.6l0.5 48.1l0.5 -48.4l0.5 47.9l0.5 -45.8l0.5 41.8l0.5 -43.1l0.5 40.1l0.5 -38.2l0.5 35.2l0.5 -36.5l0.5 38.2l0.5 -42.9l0.5 41.6l0.5 -47.5l0.5 59.8l0.5 -59.1l0.5 60.7l0.5 -61.6l0.5 49l0.5 -33l0.5 31.2l0.5 -34.8l0.5 34.6l0.5 -35.4l0.5 35.7l0.5 -67.7l0.5 72.1l0.5 -66.2l0.5 70.9l0.5 -56l0.5 54.1l0.5 -38.5l0.5 40.3l0.5 -40.7l0.5 40.3l0.5 -39.5l0.5 35.6l0.5 -40.1l0.5 34.2l0.5 -43.1l0.5 43.1l0.5 -46.3l0.5 46.6l0.5 -45.9l0.5 46.6l0.5 -37.4l0.5 42.7l0.5 -36.9l0.5 37.5l0.5 -38.9l0.5 34.5l0.5 -33.7l0.5 40l0.5 -41.7l0.5 45.4l0.5 -44.9l0.5 40.7l0.5 -54.8l0.5 52.1l0.5 -82.5l0.5 79.4l0.5 -69.4l0.5 72l0.5 -68.4l0.5 68.5l0.5 -39.5l0.5 40.9l0.5 -38.1l0.5 31.9l0.5 -34.6l0.5 45.2l0.5 -56.7l0.5 58.7l0.5 -60.2l0.5 52.4l0.5 -50.3l0.5 45.9l0.5 -40.4l0.5 45.3l0.5 -45l0.5 45.1l0.5 -42.7l0.5 36l0.5 -31.9l0.5 40l0.5 -41.3l0.5 41.7l0.5 -50.5l0.5 58.8l0.5 -92l0.5 105.3l0.5 -103.5l0.5 106.5l0.5 -102.1l0.5 98.7l0.5 -75l0.5 51.9l0.5 -38.3l0.5 37.3l0.5 -36.8l0.5 32.7l0.5 -37.1l0.5 49.9l0.5 -55.1l0.5 71.9l0.5 -76.9l0.5 73l0.5 -74.9l0.5 56.1l0.5 -50.4l0.5 45.7l0.5 -42.6l0.5 42l0.5 -34.9l0.5 38.3l0.5 -41.4l0.5 51.3l0.5 -51.2l0.5 53.3l0.5 -55.6l0.5 49.7l0.5 -57.8l0.5 47l0.5 -43.2l0.5 44.7l0.5 -51.1l0.5 51.5l0.5 -66.1l0.5 72.8l0.5 -80.5l0.5 91.7l0.5 -96.4l0.5 94l0.5 -60.7l0.5 59.3l0.5 -56.5l0.5 49.1l0.5 -47.5l0.5 48.7l0.5 -44.2l0.5 39.4l0.5 -41.3l0.5 43.3l0.5 -50.5l0.5 43.2l0.5 -40.9l0.5 42.4l0.5 -40.1l0.5 41.2l0.5 -38.6l0.5 39.7l0.5 -38.3l0.5 39.6l0.5 -43.1l0.5 43l0.5 -49.1l0.5 48.7l0.5 -47.4l0.5 46.3l0.5 -39.2l0.5 37.7l0.5 -33.5l0.5 31.9l0.5 -30.5l0.5 30.4l0.5 -32.9l0.5 32.8l0.5 -33.3l0.5 30.9l0.5 -31.2l0.5 34.1l0.5 -62l0.5 68l0.5 -79.1l0.5 83.4l0.5 -91.6l0.5 95.1l0.5 -58.1l0.5 57.7l0.5 -63.1l0.5 64.2l0.5 -65.4l0.5 66.8l0.5 -70.9l0.5 67.2l0.5 -67.1l0.5 69.5l0.5 -70.7l0.5 68.6l0.5 -66.2l0.5 67.8l0.5 -63.5l0.5 68.4l0.5 -85.2l0.5 90.2l0.5 -89.8l0.5 95.4l0.5 -108l0.5 107.4l0.5 -112.7l0.5 119.4l0.5 -123l0.5 118.1l0.5 -111.8l0.5 113.9l0.5 -108.3l0.5 106.5l0.5 -104.9l0.5 104.7l0.5 -101.9l0.5 107l0.5 -108.9l0.5 104.3l0.5 -105.9l0.5 107.8l0.5 -108l0.5 105.2l0.5 -103.2l0.5 108.8l0.5 -117.3l0.5 109.9l0.5 -124.9l0.5 129.2l0.5 -123.9l0.5 134.2l0.5 -138.4l0.5 153.5l0.5 -146.9l0.5 145.4l0.5 -136.2l0.5 131.1l0.5 -118.4l0.5 96l0.5 -92.5l0.5 96.2l0.5 -93.9l0.5 93.7l0.5 -96.5l0.5 103.4l0.5 -99.2l0.5 97.3l0.5 -97l0.5 102.2l0.5 -116l0.5 117.3l0.5 -122.4l0.5 116.6l0.5 -101.9l0.5 101.4l0.5 -105.8l0.5 102.5l0.5 -100.6l0.5 96.3l0.5 -94.2l0.5 96.7l0.5 -95.5l0.5 90.8l0.5 -93.8l0.5 96.6l0.5 -94.1l0.5 94.3l0.5 -95.8l0.5 94.1l0.5 -94.8l0.5 96.3l0.5 -98.1l0.5 99.5l0.5 -98l0.5 94.5l0.5 -100.2l0.5 99.1l0.5 -109.8l0.5 110.2l0.5 -110l0.5 114.1l0.5 -115.9l0.5 112.2l0.5 -113.5l0.5 113.3l0.5 -99.3l0.5 99.5l0.5 -96.9l0.5 100.1l0.5 -97.7l0.5 96.7l0.5 -119.9l0.5 122l0.5 -131.5l0.5 127.9l0.5 -128.2l0.5 145l0.5 -112.6l0.5 116.5l0.5 -116.6l0.5 104l0.5 -139.9l0.5 137.2l0.5 -136.7l0.5 135.4l0.5 -132l0.5 137l0.5 -126.8l0.5 133.7l0.5 -139.8l0.5 139.4l0.5 -128.1l0.5 115.3l0.5 -105.8l0.5 99.8l0.5 -100.7l0.5 99.1l0.5 -91.6l0.5 106.6l0.5 -90.5l0.5 79.7l0.5 -85.8l0.5 83.3l0.5 -82.8l0.5 81.9l0.5 -84.2l0.5 85.8l0.5 -86.2l0.5 85l0.5 -80.3l0.5 74.4l0.5 -71.6l0.5 76.8l0.5 -78.4l0.5 79.6l0.5 -77l0.5 68.9l0.5 -67.8l0.5 83.8l0.5 -86.1l0.5 88.7l0.5 -90.2l0.5 82.7l0.5 -90l0.5 99l0.5 -111.6l0.5 119.1l0.5 -119.5l0.5 110.8l0.5 -107l0.5 90.3l0.5 -95.9l0.5 98.9l0.5 -101.4l0.5 100.6l0.5 -105l0.5 99.8l0.5 -88.6l0.5 104.3l0.5 -83.1l0.5 103.7l0.5 -103.1l0.5 101.1l0.5 -95.1l0.5 78.6l0.5 -73.5l0.5 59.6l0.5 -60l0.5 58.4l0.5 -61.8l0.5 68.7l0.5 -102.6l0.5 102.6l0.5 -120.6l0.5 105.8l0.5 -110.3l0.5 114.7l0.5 -58.2l0.5 58l0.5 -58l0.5 53.3l0.5 -50.1l0.5 40.1l0.5 -35.6l0.5 44.5l0.5 -45.8l0.5 56l0.5 -55.5l0.5 52.7l0.5 -56.3l0.5 45.4l0.5 -43.2l0.5 38.3l0.5 -37l0.5 34.9l0.5 -36l0.5 43.1l0.5 -41.3l0.5 32.8l0.5 -42.5l0.5 41.9l0.5 -38.8l0.5 38.6l0.5 -36.7l0.5 36.7l0.5 -31.8l0.5 35.2l0.5 -30.8l0.5 39.8l0.5 -39.2l0.5 39.9l0.5 -39.5l0.5 37.9l0.5 -42l0.5 33.5l0.5 -35.2l0.5 34.1l0.5 -36.8l0.5 36.7l0.5 -38.1l0.5 38.5l0.5 -31.2l0.5 32.7l0.5 -37.7l0.5 36l0.5 -38.1l0.5 39.3l0.5 -39.3l0.5 39l0.5 -89.5l0.5 89.2l0.5 -86l0.5 84.9l0.5 -81.2l0.5 81.8l0.5 -30.8l0.5 35.1l0.5 -52.3l0.5 53l0.5 -57.3l0.5 58.7l0.5 -51.4l0.5 57.6l0.5 -58.7l0.5 58.1l0.5 -55l0.5 63.4l0.5 -60.5l0.5 60.1l0.5 -60.9l0.5 54.1l0.5 -48.1l0.5 38.5l0.5 -31.9l0.5 34.6l0.5 -35.2l0.5 32l0.5 -32.5l0.5 32.1l0.5 -31.8l0.5 31.1l0.5 -30.2l0.5 30.6l0.5 -30.5l0.5 28.2l0.5 -43l0.5 40.1l0.5 -47l0.5 46.4l0.5 -47.1l0.5 49.3l0.5 -40.5l0.5 40.8l0.5 -29.5l0.5 30.9l0.5 -30l0.5 31.9l0.5 -38.4l0.5 36.9l0.5 -37.1l0.5 34.1l0.5 -35.3l0.5 53.2l0.5 -60.3l0.5 95.9l0.5 -94.8l0.5 99.5l0.5 -93.5l0.5 91.5l0.5 -86.6l0.5 51l0.5 -49.8l0.5 42.8l0.5 -43l0.5 44l0.5 -48.1l0.5 35.2l0.5 -56l0.5 54.5l0.5 -59.2l0.5 58.8l0.5 -44l0.5 41.5l0.5 -29.8l0.5 32.5l0.5 -61.1l0.5 61.3l0.5 -61.3l0.5 62.7l0.5 -58.2l0.5 54.2l0.5 -29.7l0.5 38.7l0.5 -42.8l0.5 56.8l0.5 -72.6l0.5 75l0.5 -78l0.5 77.7l0.5 -64l0.5 39.5l0.5 -24.1l0.5 23.8l0.5 -32.6l0.5 39.4l0.5 -41.1l0.5 56.9l0.5 -63.7l0.5 77.2l0.5 -81.2l0.5 84.9l0.5 -84.1l0.5 80.7l0.5 -69.3l0.5 66.6l0.5 -61l0.5 49.2l0.5 -69.8l0.5 66.8l0.5 -68.4l0.5 66l0.5 -64.8l0.5 58l0.5 -33l0.5 33.8l0.5 -33.9l0.5 34.1l0.5 -33.2l0.5 31.7l0.5 -47.6l0.5 47.4l0.5 -60.3l0.5 59.6l0.5 -59l0.5 58.3l0.5 -53.6l0.5 47.4l0.5 -37.5l0.5 36.4l0.5 -27.9l0.5 27.4l0.5 -27l0.5 28.7l0.5 -26l0.5 36.6l0.5 -53.8l0.5 59.7l0.5 -57.1l0.5 57.9l0.5 -61.4l0.5 56.2l0.5 -62.1l0.5 47.5l0.5 -48.7l0.5 49.2l0.5 -49.2l0.5 50.2l0.5 -48.4l0.5 49.5l0.5 -32.3l0.5 35.1l0.5 -26.6l0.5 26.9l0.5 -33.5l0.5 32.2l0.5 -30.4l0.5 29.3l0.5 -27l0.5 23.9l0.5 -23.2l0.5 22l0.5 -25.7l0.5 27l0.5 -26.5l0.5 25.8l0.5 -31.4l0.5 44.5l0.5 -47.9l0.5 49.3l0.5 -45.4l0.5 48.4l0.5 -39.6l0.5 32.9l0.5 -33.4l0.5 27l0.5 -36l0.5 36.1l0.5 -36.2l0.5 36.5l0.5 -36.7l0.5 42.1l0.5 -33.4l0.5 36.1l0.5 -38.2l0.5 36.3l0.5 -37.3l0.5 48.4l0.5 -49.6l0.5 70.9l0.5 -63.6l0.5 73.6l0.5 -74.3l0.5 60l0.5 -61l0.5 39.6l0.5 -46.7l0.5 28.7l0.5 -30.9l0.5 50.7l0.5 -48l0.5 55.8l0.5 -57.2l0.5 53.7l0.5 -53.7l0.5 79.7l0.5 -81.4l0.5 86.9l0.5 -90.7l0.5 82.8l0.5 -85.9l0.5 74.7l0.5 -71.6l0.5 53.5l0.5 -56.5l0.5 50.6l0.5 -62.7l0.5 58.2l0.5 -69.6l0.5 72.7l0.5 -66.7l0.5 63.8l0.5 -63.7l0.5 45.3l0.5 -41.6l0.5 45.8l0.5 -43.6l0.5 45.8l0.5 -34.9l0.5 38.8l0.2 -32.2l0.3 34.5l0.2 -32.7l0.3 35.3l0.2 -28.8l0.3 31.1l0.2 -28.1l0.3 30.2l0.2 -26.8l0.3 30.1l0.2 -26.4l0.3 32l0.2 -29.8l0.3 31.4l0.2 -27.7l0.3 29.8l0.2 -25.8l0.3 25.7l0.2 -24l0.5 26l0.5 -21.1l0.5 25.4l0.5 -22.1l0.5 24.4l0.5 -23.9l0.5 26.8l0.5 -26.8l0.5 31.1l0.5 -26.6l0.5 33.8l0.5 -30.2l0.5 33.2l0.3 -28.5l0.2 36.5l0.2 -34.3l0.2 36.5l0.2 -37.1l0.2 40l0.1 -39.5l0.2 41.6l0.2 -41.7l0.2 44.4l0.2 -41.9l0.1 45.5l0.2 -42.4l0.2 46.8l0.2 -45.7l0.2 50.1l0.1 -42.2l0.2 46.1l0.2 -40.8l0.2 45.6l0.2 -40l0.1 47.8l0.2 -41.3l0.2 46.9l0.2 -42.7l0.2 52.4l0.1 -48.3l0.2 54.5l0.2 -53.1l0.2 56.2l0.2 -53.4l0.1 57l0.3 -55.6l0.2 60.1l0.3 -57l0.2 53.5l0.3 -53.3l0.2 49.2l0.3 -51l0.2 56.1l0.2 -46.2l0.2 52.3l0.2 -54.9l0.2 61l0.1 -57.5l0.2 62.7l0.2 -55.8l0.2 60.9l0.2 -56.6l0.1 70l0.2 -69l0.2 77.3l0.2 -68.5l0.2 73.3l0.1 -69.5l0.2 76.8l0.2 -72.8l0.2 77.7l0.2 -71.8l0.1 79.6l0.2 -73.3l0.2 75.8l0.2 -76.8l0.2 82.2l0.1 -67.9l0.2 73.7l0.2 -70l0.2 75.5l0.2 -63.3l0.1 67.5l0.2 -61.1l0.2 68.8l0.2 -66.7l0.2 68.5l0.1 -63.4l0.2 70.1l0.2 -59.3l0.2 66.1l0.2 -58.1l0.1 55.5l0.2 -48.4l0.2 54.8l0.2 -45.6l0.2 48.9l0.1 -39.3l0.2 44.5l0.2 -40.7l0.2 46l0.2 -39.7l0.1 43.6l0.2 -37.1l0.2 44.2l0.2 -35.8l0.2 38.9l0.1 -33.9l0.2 41l0.2 -36.6l0.2 41.9l0.2 -36.1l0.1 41.8l0.2 -36.4l0.2 42.6l0.2 -37.3l0.2 42.4l0.1 -36.4l0.2 41.7l0.2 -36.6l0.2 42.2l0.2 -37.6l0.1 44.5l0.2 -37.8l0.2 44.2l0.2 -38.4l0.2 50.2l0.1 -45.6l0.2 54l0.2 -47.6l0.2 54.5l0.2 -50.5l0.1 57.1l0.2 -52.8l0.2 57.4l0.2 -48.2l0.2 49.1l0.1 -42.9l0.2 42.1l0.2 -38.5l0.2 46l0.2 -38l0.1 42.7l0.2 -37.3l0.2 42l0.2 -37.1l0.2 42.9l0.1 -41.8l0.3 44.5l0.2 -40.4l0.3 44.8l0.2 -42l0.3 45.6l0.2 -43.3l0.3 47.9l0.2 -46l0.3 50.3l0.2 -51.7l0.3 56.2l0.2 -54.7l0.3 59l0.2 -49.3l0.3 52.5l0.2 -56.7l0.3 66.2l0.2 -68l0.3 72.2l0.2 -65.1l0.3 71.3l0.2 -64l0.3 70.1l0.2 -62.4l0.3 57.1l0.2 -52.6l0.3 54.1l0.2 -47.8l0.3 50.8l0.2 -47.6l0.3 53.8l0.2 -51.7l0.3 54.6l0.2 -49.7l0.3 53.2l0.2 -54.2l0.3 61l0.2 -70.2l0.3 73.1l0.2 -68.4l0.2 78.7l0.1 -82.5l0.2 84.4l0.2 -82.9l0.2 87.1l0.2 -89.3l0.1 91.8l0.2 -88.6l0.2 89.4l0.2 -85.2l0.2 87.6l0.1 -63.6l0.2 62.6l0.2 -45.8l0.2 54.7l0.2 -44.1l0.1 55.1l0.2 -43.4l0.2 54.7l0.2 -44.2l0.2 54.4l0.1 -45.8l0.2 50.3l0.2 -44.6l0.2 49.6l0.2 -47.1l0.1 50.2l0.2 -46.2l0.2 53l0.2 -48.9l0.2 50.9l0.1 -45.5l0.2 46.2l0.2 -42.3l0.2 47l0.2 -42.1l0.1 48.1l0.3 -42.5l0.2 46.8l0.3 -45.1l0.2 53.4l0.3 -48.7l0.2 49.3l0.3 -42.6l0.2 48.4l0.3 -44l0.2 48.5l0.3 -43.8l0.2 42.8l0.3 -38.3l0.2 38.7l0.3 -33.6l0.2 31.4l0.3 -26.4l0.2 31.5l0.3 -26.6l0.2 29.1l0.3 -22.9l0.2 27.4l0.3 -23.6l0.2 26l0.3 -20.7l0.2 23.1l0.3 -19.2l0.2 22.1l0.3 -16.9l0.2 21.4l0.3 -15.8l0.2 20.5l0.3 -16.4l0.2 21.7l0.3 -19.2l0.2 23l0.3 -17.9l0.2 22.8l0.3 -19.7l0.2 22.4l0.3 -17.5l0.2 21.2l0.3 -15.9l0.2 15.6l0.3 -20.7l0.2 26.1l0.3 -21.9l0.2 25.9l0.3 -23.6l0.2 26.7l0.3 -21.3l0.5 16.7l0.2 -22.7l0.1 14.6l0.2 -20.1l0.2 13.1l0.2 -14l0.2 9.9l0.1 -16l0.2 7.9l0.2 -14l0.2 7.8l0.2 -14.2l0.1 7.6l0.2 -13.5l0.2 6.9l0.2 -13.7l0.2 6.3l0.1 -12.9l0.2 5.8l0.2 -12.6l0.3 9.4l0.5 -2.1l0.1 8.8l0.2 -4.2l0.2 8.5l0.2 -4l0.2 8.6l0.1 -5.2l0.2 9.5l0.2 -5.2l0.2 9.7l0.2 -5.9l0.1 10.8l0.2 -5.5l0.2 9.6l0.2 -5.3l0.2 10.5l0.1 -6.1l0.2 11.4l0.2 -6.6l0.2 12.4l0.2 -7.5l0.1 13.9l0.2 -9.6l0.2 14.4l0.2 -9.7l0.2 15l0.1 -10.6l0.2 16.1l0.2 -11.3l0.2 15.6l0.2 -11.9l0.1 15.9l0.2 -10.6l0.2 14.5l0.2 -10.1l0.2 14.3l0.1 -9.5l0.2 13.7l0.2 -9.3l0.2 12.9l0.2 -8l0.1 11.8l0.2 -7.6l0.2 11l0.2 -5.9l0.2 10.1l0.5 4.5l0.5 13l0.5 -6.3l0.5 -6.1l0.5 -13.8l0.1 4.2l0.2 -8.9l0.2 4.2l0.2 -8.8l0.2 4.5l0.1 -8.8l0.2 4.4l0.2 -9.9l0.2 5.4l0.2 -11.4l0.1 6.4l0.2 -12.6l0.2 8.3l0.2 -14.7l0.2 10.5l0.1 -15.9l0.2 11.5l0.2 -16.1l0.2 11.5l0.2 -16.3l0.1 11.8l0.2 -16.2l0.2 12.2l0.2 -17.1l0.2 13l0.1 -16.8l0.2 13l0.2 -13.8l0.2 9.5l0.2 -12.9l0.1 9.1l0.2 -17.7l0.2 13l0.2 -22l0.2 18.3l0.1 -29.6l0.2 26l0.2 -36.7l0.2 31.4l0.2 -33l0.1 29.8l0.2 -37.9l0.2 33.6l0.2 -37.4l0.2 33.1l0.1 -38.3l0.3 35.4l0.5 -28.5l0.2 37.6l0.3 -22.3l0.2 35.1l0.3 -23.6l0.2 30.6l0.3 -29.9l0.2 33.3l0.3 -29.3l0.2 33.6l0.3 -28.5l0.2 32.1l0.3 -28.1l0.2 35.3l0.3 -30.9l0.2 18.9l0.3 -12.5l0.2 15.2l0.3 -16.3l0.2 21l0.3 -15.6l0.2 19.8l0.3 -17l0.2 21l0.3 -15.3l0.2 20.2l0.3 -15.1l0.2 17.8l0.3 -8.5l0.2 12.8l0.3 -9.5l0.5 7l0.2 -17.8l0.2 13.4l0.2 -17.8l0.2 14.1l0.2 -16.5l0.1 13.9l0.2 -16.8l0.2 13.2l0.2 -16.5l0.2 13.5l0.1 -16.9l0.2 13.9l0.2 -16.3l0.2 14.7l0.2 -15.9l0.1 14.8l0.2 -16.9l0.2 15.1l0.2 -17.5l0.2 17.7l0.1 -20.6l0.2 17.7l0.2 -22l0.2 21.8l0.2 -25l0.1 18.8l0.2 -22l0.2 20l0.2 -23.4l0.2 20.1l0.1 -23.5l0.2 20.1l0.2 -23.4l0.2 16.4l0.2 -20.1l0.1 12.8l0.2 -16.9l0.2 9.4l0.2 -13.5l0.2 10.9l0.1 -15.6l0.2 17.5l0.2 -21.8l0.2 24.1l0.2 -27.9l0.1 23.6l0.2 -28.2l0.3 25l0.2 -28.3l0.5 27.9l0.3 -25l0.2 28l0.3 -22.9l0.2 26l0.3 -18.1l0.2 22.8l0.3 -22.9l0.2 24.2l0.3 -20.5l0.2 22.6l0.3 -20.3l0.2 22.6l0.3 -20.4l0.2 22.1l0.3 -18.3l0.2 22.7l0.3 -18l0.2 22.1l0.3 -20.4l0.2 21.5l0.3 -21.5l0.2 16l0.3 -15.2l0.2 18.5l0.3 -18.7l0.2 22.3l0.3 -19.5l0.2 22.1l0.3 -17.6l0.2 20.6l0.3 -19l0.2 22.7l0.3 -21.3l0.2 25l0.3 -21.9l0.2 24.6l0.5 -21.8l0.5 19.8l0.3 -24l0.2 21.9l0.3 -24.7l0.2 21.7l0.3 -24.9l0.2 21.9l0.3 -25.6l0.2 22.7l0.3 -25.4l0.2 22.3l0.3 -32.5l0.2 29.4l0.3 -34.6l0.2 29.8l0.3 -28.8l0.2 28.5l0.3 -33.8l0.2 32l0.3 -34.4l0.2 31.1l0.3 -30.4l0.2 27.6l0.3 -24.6l0.2 20l0.3 -17.6l0.2 10.7l0.3 -12l0.2 9.5l0.3 -11.6l0.2 10.7l0.3 -14l0.2 10.8l0.3 -13.3l0.5 14l0.2 -9.8l0.3 13.2l0.2 -9.8l0.3 12.6l0.2 -9.8l0.3 17.8l0.2 -14.1l0.3 21.7l0.2 -18.1l0.3 28.2l0.2 -23.7l0.3 32.6l0.2 -28.8l0.3 34.2l0.2 -30.2l0.3 34.2l0.2 -29.9l0.3 31.7l0.2 -29.7l0.3 35.6l0.2 -32.2l0.3 35l0.2 -31.4l0.3 34.1l0.5 -34.3l0.2 30.8l0.3 -35.1l0.2 34.8l0.3 -38.8l0.2 34l0.3 -36.7l0.2 34l0.3 -34.2l0.2 28.7l0.3 -30l0.2 27.9l0.3 -29.2l0.2 21.1l0.3 -22.6l0.2 21.5l0.3 -22.4l0.2 18.6l0.3 -21.3l0.2 17l0.3 -20.4l0.2 16.9l0.3 -19.6l0.2 16.4l0.3 -19.1l0.2 17.7l0.3 -20.9l0.2 11.5l0.3 -25.7l0.5 25.5l0.5 -23.1l0.2 26.8l0.3 -23.9l0.2 26.2l0.3 -20.9l0.2 22.8l0.3 -16.7l0.2 17.1l0.3 -12.9l0.2 15.2l0.3 -11.2l0.2 15.5l0.3 -12.8l0.2 17.9l0.3 -15.6l0.2 17.9l0.3 -15.3l0.2 17.3l0.3 -14.9l0.2 18.3l0.3 -15.6l0.2 16.8l0.3 -14.7l0.2 18.4l0.3 -16.9l0.2 19.4l0.3 -15.9l0.2 19l0.3 -17.6l0.2 18.3l0.3 -15.7l0.2 19l0.3 -16.1l0.5 17.7l0.5 -19.7l0.2 9.3l0.3 -11.9l0.2 13.8l0.3 -17.3l0.2 21.7l0.3 -25l0.2 23.6l0.3 -27.4l0.2 22.3l0.3 -25.1l0.2 24.8l0.3 -25.9l0.2 23.7l0.3 -25.3l0.2 20.6l0.3 -23.2l0.2 17.8l0.3 -26.5l0.2 23.1l0.3 -24.9l0.2 20l0.3 -23.3l0.2 20.1l0.3 -21.7l0.2 21.2l0.3 -22.4l0.2 21.4l0.3 -20.8l0.2 18.9l0.3 -18.8l0.2 15.8l0.3 -15.9l0.5 13.9l0.5 -10.9l0.2 17.6l0.3 -16.4l0.2 21.1l0.3 -17.9l0.2 19.5l0.3 -15.7l0.2 18.5l0.3 -16.5l0.2 20.9l0.3 -17.9l0.2 21.1l0.3 -17.7l0.2 18.1l0.3 -14.3l0.2 15.2l0.3 -13.2l0.2 16.1l0.3 -12.2l0.2 14.8l0.3 -12.5l0.5 13.4l0.2 -15.8l0.3 12.4l0.2 -15.8l0.3 13.9l0.2 -15.9l0.3 17l0.2 -19.8l0.3 22.4l0.2 -25.7l0.3 25.4l0.2 -27.7l0.3 30.1l0.2 -33.6l0.3 31.2l0.2 -33.7l0.3 29.7l0.2 -32.7l0.3 33.3l0.2 -36.2l0.3 33.2l0.2 -35.7l0.3 30.8l0.2 -33.1l0.5 32.7l0.5 -30.6l0.3 29.9l0.2 -27.9l0.3 31.5l0.2 -29.3l0.3 31.2l0.2 -28.6l0.3 31.6l0.2 -30.2l0.3 32.6l0.2 -31.3l0.3 27.3l0.2 -33.6l0.3 36.1l0.2 -34.9l0.3 38.1l0.2 -36.5l0.3 39.2l0.2 -39.3l0.5 39.6l0.5 -28.2l0.5 24.5l0.5 -24.6l0.5 20.5l0.5 -33.1l0.5 30.8l0.5 -33.1l0.5 32.5l0.5 -33.3l0.5 34.3l0.5 -18.9l0.5 30.2l0.5 -34.3l0.5 36.1l0.5 -36.2l0.5 26.4l0.5 -22.8l0.5 18.8l0.5 -22.5l0.5 28l0.5 -30.1l0.5 31.7l0.5 -30.6l0.5 32.7l0.5 -28l0.5 27.4l0.5 -31.2l0.5 35.7l0.5 -43.3l0.5 41.4l0.5 -43.2l0.5 31.7l0.5 -24.5l0.5 39.2l0.5 -37l0.5 38.4l0.5 -37.5l0.5 36.1l0.5 -36.7l0.5 33l0.5 -33.8l0.5 27.8l0.5 -27.4l0.5 28.9l0.5 -28.9l0.5 27.9l0.5 -28.4l0.5 33.7l0.5 -32.4l0.5 37.4l0.5 -35.7l0.5 38.4l0.5 -43.8l0.5 45.6l0.5 -44.1l0.5 32.6l0.5 -36.5l0.5 29.7l0.5 -70.5l0.5 70.8l0.5 -68.8l0.5 70.9l0.5 -42.6l0.5 54l0.5 -38.5l0.5 54.4l0.5 -55.2l0.5 58.5l0.5 -67.1l0.5 65.4l0.5 -75.7l0.5 48.3l0.5 -58.8l0.5 72.7l0.5 -77.8l0.5 90.2l0.5 -87.8l0.5 94.4l0.5 -85.3l0.5 49.2l0.5 -38.2l0.5 37.4l0.5 -35.6l0.5 36.3l0.5 -35.7l0.5 49.9l0.5 -37.1l0.5 47.2l0.5 -53.4l0.5 51.7l0.5 -50.6l0.5 47.5l0.5 -50.3l0.5 40.9l0.5 -35.6l0.5 30l0.5 -28.4l0.5 26l0.5 -24.7l0.5 25.3l0.5 -23.2l0.5 26l0.5 -25.7l0.5 26l0.5 -29l0.5 28.1l0.5 -28.7l0.5 35.5l0.5 -36.3l0.5 56.6l0.5 -54.3l0.5 53.8l0.5 -50.9l0.5 50.9l0.5 -51.4l0.5 36.3l0.5 -35.9l0.5 22.7l0.5 -22.5l0.5 19.9l0.5 -19.6l0.5 20.3l0.5 -20.7l0.5 26l0.5 -27.9l0.5 39.5l0.5 -41.1l0.5 43.2l0.5 -42.5l0.5 42.1l0.5 -64.5l0.5 54.7l0.5 -70.8l0.5 63l0.5 -61l0.5 83.3l0.5 -74.5l0.5 78.2l0.5 -68.4l0.5 63.1l0.5 -53l0.5 28.1l0.5 -21.4l0.5 38.8l0.5 -38l0.5 36.4l0.5 -37.4l0.5 32.3l0.5 -55.8l0.5 47.4l0.5 -80.6l0.5 83.1l0.5 -72.7l0.5 71.8l0.5 -71.7l0.5 70.2l0.5 -38l0.5 38l0.5 -27.5l0.5 26.9l0.5 -24.4l0.5 22.6l0.5 -22.2l0.5 22.9l0.5 -32.9l0.5 32.1l0.5 -30.5l0.5 30.7l0.5 -31.5l0.5 31.3l0.5 -28.7l0.5 32.5l0.5 -34l0.5 35l0.5 -33.3l0.5 33.1l0.5 -31.7l0.5 58.3l0.5 -54.7l0.5 59.1l0.5 -57.2l0.5 61.4l0.5 -61.2l0.5 34.6l0.5 -32.7l0.5 26.5l0.5 -28.3l0.5 53l0.5 -54.4l0.5 68.9l0.5 -69.7l0.5 65.3l0.5 -65l0.5 24.4l0.5 -39.2l0.5 39.8l0.5 -52.9l0.5 52.3l0.5 -50.2l0.5 54.9l0.5 -57l0.5 62.5l0.5 -67.5l0.5 71.3l0.5 -71.6l0.5 71l0.5 -69.2l0.5 58l0.5 -42.1l0.5 55.2l0.5 -55l0.5 63.4l0.5 -64l0.5 62.7l0.5 -76l0.5 63.2l0.5 -75.5l0.5 64.8l0.5 -59.3l0.5 65.4l0.5 -68.7l0.5 69.6l0.5 -41.3l0.5 35.8l0.5 -36.7l0.5 39.9l0.5 -38.5l0.5 39.2l0.5 -25.3l0.5 26.6l0.5 -34.1l0.5 27l0.5 -44.6l0.5 48.2l0.5 -54.6l0.5 56.3l0.5 -52.3l0.5 52.4l0.5 -29.4l0.5 36.4l0.5 -47.8l0.5 45.5l0.5 -46.6l0.5 49.9l0.5 -49.6l0.5 54.9l0.5 -41.3l0.5 41.4l0.5 -48.3l0.5 47.2l0.5 -44.8l0.5 30.6l0.5 -22.5l0.5 25.1l0.5 -35.3l0.5 35.9l0.5 -54.5l0.5 54.4l0.5 -53.2l0.5 49.9l0.5 -50.8l0.5 48.5l0.5 -23.9l0.5 24.2l0.5 -23l0.5 23.4l0.5 -23.5l0.5 26.5l0.5 -22.7l0.5 44.9l0.5 -48.4l0.5 50.5l0.5 -51.9l0.5 52l0.5 -48.8l0.5 21.5l0.5 -20.4l0.5 24.8l0.5 -24l0.5 23l0.5 -23.5l0.5 27.1l0.5 -32.4l0.5 36.9l0.5 -40.6l0.5 43.5l0.5 -41.8l0.5 43.5l0.5 -51.4l0.5 41.5l0.5 -53.3l0.5 46.9l0.5 -56.2l0.5 64.5l0.5 -69l0.5 66.7l0.5 -52.6l0.5 51.5l0.5 -34.2l0.5 42.9l0.5 -34.2l0.5 40.8l0.5 -40.9l0.5 39.9l0.5 -40.3l0.5 22.7l0.5 -22.4l0.5 36.4l0.5 -37.2l0.5 71.6l0.5 -70.7l0.5 63.3l0.5 -60.7l0.5 61.4l0.5 -67.4l0.5 69.6l0.5 -79l0.5 72l0.5 -76.8l0.5 81.2l0.5 -79.5l0.5 74.4l0.5 -66.1l0.5 57.3l0.5 -55.9l0.5 53.7l0.5 -55.2l0.5 52.5l0.5 -46.6l0.5 45.2l0.5 -42.7l0.5 28.3l0.5 -33.1l0.5 27.8l0.5 -30.8l0.5 27.9l0.5 -27.5l0.5 23.6l0.5 -30.3l0.5 26l0.5 -34.8l0.5 32.6l0.3 -37.4l0.2 34.4l0.3 -34.9l0.2 32.3l0.3 -32.4l0.2 30.9l0.3 -28.9l0.2 26.9l0.3 -24.9l0.2 21.7l0.3 -22.6l0.2 20.4l0.3 -21.7l0.2 18.1l0.3 -20.1l0.2 17.9l0.3 -20.8l0.2 18.1l0.3 -19.7l0.2 16.8l0.3 -23.6l0.2 21.7l0.3 -48.6l0.2 45.5l0.3 -52.3l0.2 49.6l0.3 -63.9l0.2 61.7l0.3 -54.9l0.2 51.8l0.3 -52l0.2 49.9l0.3 -20.2l0.2 21.5l0.3 -68.5l0.2 68.3l0.3 -67.7l0.2 70.8l0.3 -66.8l0.2 63.4l0.3 -66.3l0.2 63.5l0.3 -73.3l0.5 69.9l0.5 -54.5l0.5 43.3l0.5 -33.1l0.5 34.8l0.5 -26.9l0.5 24.5l0.5 -22.9l0.5 21.3l0.5 -21.9l0.5 38.3l0.2 -48.6l0.3 37.3l0.2 -43.7l0.1 34.9l0.2 -39.2l0.2 30.4l0.2 -32.7l0.2 25.7l0.1 -29.9l0.2 24.2l0.2 -27l0.2 21.1l0.2 -24.2l0.1 20.9l0.2 -24.5l0.2 20.4l0.2 -23.8l0.1 19.9l0.2 -18.2l0.2 13.9l0.2 -17.1l0.2 14.1l0.3 -29.1l0.2 26.2l0.3 -28.1l0.2 25.1l0.3 -25.6l0.2 23.7l0.3 -28.2l0.2 24.2l0.3 -24.2l0.2 21.1l0.3 -21.5l0.2 18.6l0.3 -19.3l0.2 12.8l0.3 -14.7l0.2 9.9l0.3 -13.1l0.2 10l0.3 -14.2l0.2 10.3l0.3 -12.7l0.2 10.8l0.5 -14.2l0.5 7.1l0.5 -11.6l0.5 6.2l0.5 -9.9l0.5 -4.6l0.5 -16l0.5 -5.4l0.5 -6.6l0.5 2.3l0.5 -7.4l0.5 3.8l0.5 -8.6l0.5 4l0.5 -8.1l0.5 2.6l0.5 -6.8l0.5 2.1l0.5 -7.4l0.5 1.3l0.5 -11.2l0.5 0.7l0.5 -10.7l0.5 0.4l0.5 -10.2l0.5 0.5l0.5 -10.3l0.5 -0.1l0.5 -4.9l0.5 6.7l0.5 -2.9l0.5 6.7l0.5 -2.6l0.5 6.7l0.5 -3l0.5 5.5l0.5 -2.4l0.5 5.4l0.5 -2.3l0.5 6l0.5 -3l0.5 6.3l0.5 -2.9l0.5 -2.1l0.5 -10.6l0.5 -1.6l0.5 -12.1l0.5 -1.1l0.5 -11.8l0.5 -0.2l0.5 -11.1l0.5 0l0.5 -10.9l0.5 0.2l0.5 -11.7l0.5 0.8l0.5 -12.7l0.5 2.6l0.5 -7.7l0.5 6.7l0.5 -7.4l0.5 6.7l0.5 -7.2l0.5 6.1l0.5 -6.8l0.5 6l0.5 -6.9l0.5 5.4l0.5 -6.2l0.5 4.6l0.5 -5.5l0.5 3.9l0.5 -5.2l0.5 3.2l0.5 -5.2l0.5 -2.6l0.5 -11.9l0.5 -3.3l0.5 -10.4l0.5 -0.1l0.5 -12.3l0.5 1.2l0.5 -13.3l0.5 1.7l0.5 -10.5l0.5 -1.4l0.5 -9.8l0.5 -0.6l0.5 -9.4l0.5 0.3l0.5 -9.7l0.5 0.2l0.5 -10.1l0.5 0.2l0.5 -7l0.5 7l0.5 -3l0.5 6.4l0.5 -2.6l0.5 6.4l0.5 -2.5l0.5 4.9l0.5 -2.6l0.5 4.9l0.5 -2.5l0.5 4.4l0.5 -2.5l0.5 1.3l0.5 -7.2l0.5 0l0.5 -7.7l0.5 1.4l0.5 -8.7l0.5 1.6l0.5 -9.4l0.5 2.2l0.5 -7.1l0.5 5.7l0.5 -7.7l0.5 6.6l0.5 -7.5l0.5 5.9l0.5 -5l0.5 3.4l0.5 -5l0.5 -2.1l0.5 -9.7l0.5 -1.6l0.5 -9.8l0.5 -1l0.5 -8.9l0.5 2.1l0.5 -5.7l0.5 3l0.5 -6.3l0.5 2.9l0.5 -6.3l0.5 2.3l0.5 -5.8l0.5 1.5l0.5 -5.2l0.5 1.7l0.5 -6l0.5 -1l0.5 -6.9l0.5 -1l0.5 -6.9l0.5 -1.4l0.5 -7.9l0.5 -3.8l0.5 -8l0.5 -4.3l0.5 -7.6l0.5 -4.7l0.5 -6.2l0.5 -3.3l0.5 -5.8l0.1 0.4" fill="none" stroke="#ff0000" stroke-opacity="0.8" stroke-width="2.9" stroke-linejoin="round" stroke-linecap="butt"/>
<path d="M1497.8 263.3H1668.2" stroke="#0000ff" stroke-width="4.5" fill="none"/>
<path d="M1497.8 355H1668.2" stroke="#ff0000" stroke-opacity="0.8" stroke-width="2.6" fill="none"/>
<path d="M341.5 48.5H2348.5V1662.5H341.5ZM442.5 1662.5v-31.8M442.5 48.5v31.8M569.5 1662.5v-16.2M569.5 48.5v16.2M696.5 1662.5v-31.8M696.5 48.5v31.8M823.5 1662.5v-16.2M823.5 48.5v16.2M950.5 1662.5v-31.8M950.5 48.5v31.8M1077.5 1662.5v-16.2M1077.5 48.5v16.2M1204.5 1662.5v-31.8M1204.5 48.5v31.8M1331.5 1662.5v-16.2M1331.5 48.5v16.2M1458.5 1662.5v-31.8M1458.5 48.5v31.8M1585.5 1662.5v-16.2M1585.5 48.5v16.2M1712.5 1662.5v-31.8M1712.5 48.5v31.8M1839.5 1662.5v-16.2M1839.5 48.5v16.2M1966.5 1662.5v-31.8M1966.5 48.5v31.8M2093.5 1662.5v-16.2M2093.5 48.5v16.2M2220.5 1662.5v-31.8M2220.5 48.5v31.8M341.5 1482.5h31.8M2348.5 1482.5h-31.8M341.5 1303.2h16.2M2348.5 1303.2h-16.2M341.5 1124.0h31.8M2348.5 1124.0h-31.8M341.5 944.7h16.2M2348.5 944.7h-16.2M341.5 765.5h31.8M2348.5 765.5h-31.8M341.5 586.3h16.2M2348.5 586.3h-16.2M341.5 407.0h31.8M2348.5 407.0h-31.8M341.5 227.8h16.2M2348.5 227.8h-16.2" fill="none" stroke="#000" stroke-width="7.0" stroke-linejoin="miter" stroke-linecap="butt"/>
<g font-size="72">
<text y="1755.6"><tspan x="425.2">0</tspan></text>
<text y="1755.6"><tspan x="678.5">5</tspan></text>
<text y="1755.6"><tspan x="915.2">1</tspan><tspan x="950.2">0</tspan></text>
<text y="1755.6"><tspan x="1169.2">1</tspan><tspan x="1203.5">5</tspan></text>
<text y="1755.6"><tspan x="1424.6">2</tspan><tspan x="1458.2">0</tspan></text>
<text y="1755.6"><tspan x="1678.6">2</tspan><tspan x="1711.5">5</tspan></text>
<text y="1755.6"><tspan x="1931.8">3</tspan><tspan x="1966.2">0</tspan></text>
<text y="1755.6"><tspan x="2185.8">3</tspan><tspan x="2219.5">5</tspan></text>
<text y="75.4"><tspan x="170.2">0</tspan><tspan x="203.3">.</tspan><tspan x="237.3">1</tspan><tspan x="271.2">0</tspan></text>
<text y="433.9"><tspan x="170.2">0</tspan><tspan x="203.3">.</tspan><tspan x="238.3">0</tspan><tspan x="270.5">5</tspan></text>
<text y="792.4"><tspan x="170.2">0</tspan><tspan x="203.3">.</tspan><tspan x="238.3">0</tspan><tspan x="271.2">0</tspan></text>
<text y="1150.9"><tspan x="133.5" textLength="36.8" lengthAdjust="spacingAndGlyphs">−</tspan><tspan x="170.2">0</tspan><tspan x="203.3">.</tspan><tspan x="238.3">0</tspan><tspan x="270.5">5</tspan></text>
<text y="1509.4"><tspan x="133.5" textLength="36.8" lengthAdjust="spacingAndGlyphs">−</tspan><tspan x="170.2">0</tspan><tspan x="203.3">.</tspan><tspan x="237.3">1</tspan><tspan x="271.2">0</tspan></text>
</g>
<text transform="rotate(-90)" y="118.8" font-size="86"><tspan x="-1300.1" textLength="40.4" lengthAdjust="spacingAndGlyphs">A</tspan><tspan x="-1258.8" textLength="40.7" lengthAdjust="spacingAndGlyphs">c</tspan><tspan x="-1218.2" textLength="40.7" lengthAdjust="spacingAndGlyphs">c</tspan><tspan x="-1176.7" textLength="42.8" lengthAdjust="spacingAndGlyphs">e</tspan><tspan x="-1125.4" textLength="25.3" lengthAdjust="spacingAndGlyphs">l</tspan><tspan x="-1095.0" textLength="42.8" lengthAdjust="spacingAndGlyphs">e</tspan><tspan x="-1046.6" textLength="30.4" lengthAdjust="spacingAndGlyphs">r</tspan><tspan x="-1009.1" textLength="42.8" lengthAdjust="spacingAndGlyphs">a</tspan><tspan x="-953.3" textLength="25.3" lengthAdjust="spacingAndGlyphs">t</tspan><tspan x="-916.3" textLength="25.3" lengthAdjust="spacingAndGlyphs">i</tspan><tspan x="-889.2" textLength="42.0" lengthAdjust="spacingAndGlyphs">o</tspan><tspan x="-846.3" textLength="43.9" lengthAdjust="spacingAndGlyphs">n</tspan><tspan x="-803.2" textLength="41.4" lengthAdjust="spacingAndGlyphs">s</tspan><tspan x="-733.6" dy="-9" textLength="19.4" lengthAdjust="spacingAndGlyphs">(</tspan><tspan x="-715.2" dy="9" textLength="44.1" lengthAdjust="spacingAndGlyphs">m</tspan><tspan x="-668.4" dy="5.5" font-size="107" textLength="34.4" lengthAdjust="spacingAndGlyphs">/</tspan><tspan x="-627.4" dy="-5.5" textLength="41.4" lengthAdjust="spacingAndGlyphs">s</tspan><tspan x="-587.9" dy="-34.5" font-size="58" textLength="35.2" lengthAdjust="spacingAndGlyphs">2</tspan><tspan x="-557.8" dy="25.5" textLength="25.4" lengthAdjust="spacingAndGlyphs">)</tspan></text>
<text y="1840.2" font-size="86"><tspan x="1268.0" textLength="25.3" lengthAdjust="spacingAndGlyphs">t</tspan><tspan x="1308.8" dy="5.5" font-size="107" textLength="33.1" lengthAdjust="spacingAndGlyphs">/</tspan><tspan x="1349.4" dy="-5.5" textLength="37.9" lengthAdjust="spacingAndGlyphs">s</tspan></text>
<text y="291.3" font-size="86"><tspan x="1708.3" textLength="43.3" lengthAdjust="spacingAndGlyphs">M</tspan><tspan x="1752.7" textLength="41.3" lengthAdjust="spacingAndGlyphs">o</tspan><tspan x="1795.4" textLength="38.7" lengthAdjust="spacingAndGlyphs">d</tspan><tspan x="1837.2" textLength="37.5" lengthAdjust="spacingAndGlyphs">e</tspan><tspan x="1887.7" textLength="25.3" lengthAdjust="spacingAndGlyphs">l</tspan></text>
<text y="384.5" font-size="86"><tspan x="1708.9" textLength="43.2" lengthAdjust="spacingAndGlyphs">E</tspan><tspan x="1753.2" textLength="42.3" lengthAdjust="spacingAndGlyphs">x</tspan><tspan x="1793.1" textLength="43.5" lengthAdjust="spacingAndGlyphs">p</tspan><tspan x="1837.2" textLength="37.5" lengthAdjust="spacingAndGlyphs">e</tspan><tspan x="1882.9" textLength="30.4" lengthAdjust="spacingAndGlyphs">r</tspan><tspan x="1929.1" textLength="25.3" lengthAdjust="spacingAndGlyphs">i</tspan><tspan x="1962.9" textLength="40.6" lengthAdjust="spacingAndGlyphs">m</tspan><tspan x="2006.7" textLength="37.5" lengthAdjust="spacingAndGlyphs">e</tspan><tspan x="2046.9" textLength="39.9" lengthAdjust="spacingAndGlyphs">n</tspan><tspan x="2098.6" textLength="25.3" lengthAdjust="spacingAndGlyphs">t</tspan><tspan x="2130.2" textLength="41.3" lengthAdjust="spacingAndGlyphs">a</tspan><tspan x="2181.0" textLength="25.3" lengthAdjust="spacingAndGlyphs">l</tspan></text>
</svg>
</body></html>
